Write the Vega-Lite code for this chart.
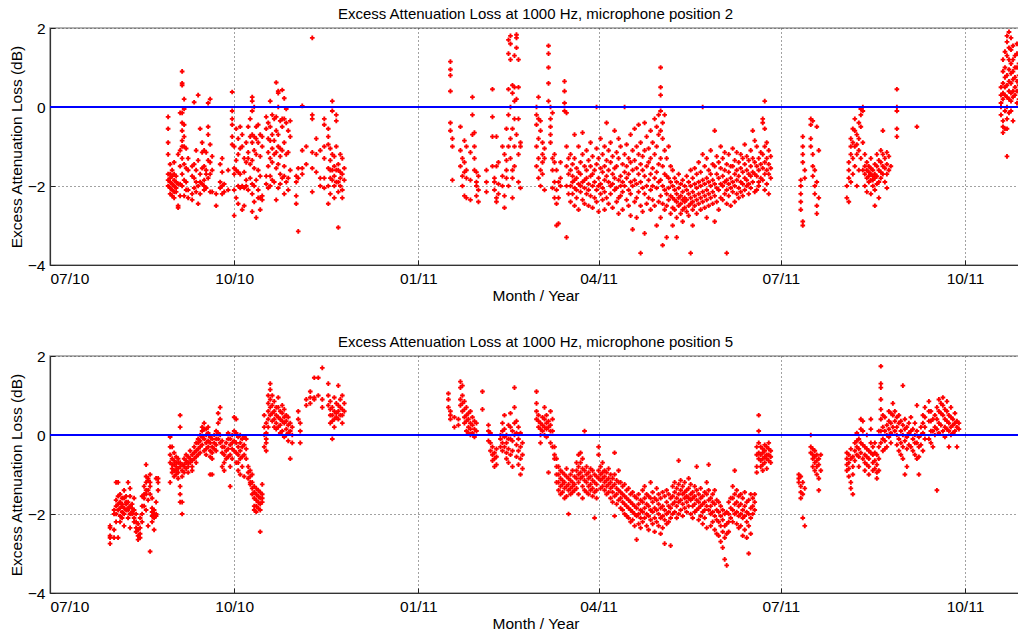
{
"$schema": "https://vega.github.io/schema/vega-lite/v6.json",
"background": "white",
"padding": {"left": 8, "top": 6, "right": 0, "bottom": 0},
"config": {
  "font": "Liberation Sans",
  "view": {"stroke": "#999999", "strokeWidth": 1.5},
  "axis": {"labelFont": "Liberation Sans", "labelFontSize": 15.5, "labelColor": "#000000", "titleFont": "Liberation Sans", "titleFontSize": 15.5, "titleFontWeight": "normal", "titleColor": "#000000", "domain": true, "domainColor": "#333333", "domainWidth": 1.2, "ticks": true, "tickSize": -5, "tickColor": "#222222", "gridDash": [1, 3], "gridColor": "#444444", "gridOpacity": 1, "labelPadding": 11},
  "axisY": {"labelPadding": 10, "titlePadding": 3},
  "axisX": {"titlePadding": 2},
  "title": {"font": "Liberation Sans", "fontSize": 15, "fontWeight": "normal", "color": "#000000", "offset": -1},
  "concat": {"spacing": 29}
},
"datasets": {
"mic2": [
{"date":"2010-08-29","loss":-0.25},{"date":"2010-08-29","loss":-0.55},{"date":"2010-08-29","loss":-0.9},{"date":"2010-08-29","loss":-1.2},{"date":"2010-08-29","loss":-1.7},{"date":"2010-08-29","loss":-1.85},{"date":"2010-08-29","loss":-2.0},
{"date":"2010-08-30","loss":-1.45},{"date":"2010-08-30","loss":-1.7},{"date":"2010-08-30","loss":-1.8},{"date":"2010-08-30","loss":-1.9},{"date":"2010-08-30","loss":-2.05},{"date":"2010-08-30","loss":-2.2},
{"date":"2010-08-31","loss":-1.75},{"date":"2010-08-31","loss":-1.95},{"date":"2010-08-31","loss":-2.1},{"date":"2010-08-31","loss":-2.25},{"date":"2010-08-31","loss":-1.6},
{"date":"2010-09-01","loss":-1.7},{"date":"2010-09-01","loss":-1.85},{"date":"2010-09-01","loss":-2.0},{"date":"2010-09-01","loss":-2.15},{"date":"2010-09-01","loss":-2.3},{"date":"2010-09-01","loss":-1.4},
{"date":"2010-09-02","loss":-1.9},{"date":"2010-09-02","loss":-2.05},{"date":"2010-09-02","loss":-2.15},{"date":"2010-09-02","loss":-1.75},
{"date":"2010-09-03","loss":-2.5},{"date":"2010-09-03","loss":-2.55},{"date":"2010-09-03","loss":-1.95},{"date":"2010-09-03","loss":-1.2},
{"date":"2010-09-04","loss":-1.1},{"date":"2010-09-04","loss":-1.5},{"date":"2010-09-04","loss":-1.95},{"date":"2010-09-04","loss":-2.25},{"date":"2010-09-04","loss":-0.15},
{"date":"2010-09-05","loss":0.9},{"date":"2010-09-05","loss":0.6},{"date":"2010-09-05","loss":0.55},{"date":"2010-09-05","loss":-0.15},{"date":"2010-09-05","loss":-0.4},{"date":"2010-09-05","loss":-0.6},{"date":"2010-09-05","loss":-0.85},{"date":"2010-09-05","loss":-1.0},{"date":"2010-09-05","loss":-1.3},{"date":"2010-09-05","loss":-1.7},{"date":"2010-09-05","loss":-2.0},
{"date":"2010-09-06","loss":0.2},{"date":"2010-09-06","loss":-0.05},{"date":"2010-09-06","loss":-0.45},{"date":"2010-09-06","loss":-0.75},{"date":"2010-09-06","loss":-1.0},{"date":"2010-09-06","loss":-1.45},{"date":"2010-09-06","loss":-1.85},{"date":"2010-09-06","loss":-2.25},
{"date":"2010-09-07","loss":-1.05},{"date":"2010-09-07","loss":-1.55},{"date":"2010-09-07","loss":-1.9},{"date":"2010-09-07","loss":-2.1},
{"date":"2010-09-08","loss":-1.3},{"date":"2010-09-08","loss":-1.6},{"date":"2010-09-08","loss":-2.1},{"date":"2010-09-08","loss":-2.3},
{"date":"2010-09-10","loss":-1.5},{"date":"2010-09-10","loss":-1.75},{"date":"2010-09-10","loss":-2.2},{"date":"2010-09-10","loss":-2.35},
{"date":"2010-09-11","loss":0.12},{"date":"2010-09-11","loss":-1.45},{"date":"2010-09-11","loss":-1.8},{"date":"2010-09-11","loss":-2.05},
{"date":"2010-09-12","loss":-1.1},{"date":"2010-09-12","loss":-1.6},{"date":"2010-09-12","loss":-1.9},{"date":"2010-09-12","loss":-2.15},
{"date":"2010-09-13","loss":0.3},{"date":"2010-09-13","loss":-1.35},{"date":"2010-09-13","loss":-2.0},{"date":"2010-09-13","loss":-2.45},
{"date":"2010-09-14","loss":-0.55},{"date":"2010-09-14","loss":-1.7},{"date":"2010-09-14","loss":-1.9},{"date":"2010-09-14","loss":-2.2},
{"date":"2010-09-15","loss":-0.9},{"date":"2010-09-15","loss":-1.15},{"date":"2010-09-15","loss":-1.55},{"date":"2010-09-15","loss":-1.95},
{"date":"2010-09-16","loss":-1.1},{"date":"2010-09-16","loss":-1.5},{"date":"2010-09-16","loss":-1.85},{"date":"2010-09-16","loss":-2.0},{"date":"2010-09-16","loss":-2.1},
{"date":"2010-09-17","loss":-1.15},{"date":"2010-09-17","loss":-1.6},{"date":"2010-09-17","loss":-1.7},{"date":"2010-09-17","loss":-2.05},
{"date":"2010-09-18","loss":0.1},{"date":"2010-09-18","loss":-0.5},{"date":"2010-09-18","loss":-0.7},{"date":"2010-09-18","loss":-1.35},{"date":"2010-09-18","loss":-1.8},
{"date":"2010-09-19","loss":0.2},{"date":"2010-09-19","loss":-0.95},{"date":"2010-09-19","loss":-1.4},{"date":"2010-09-19","loss":-1.7},{"date":"2010-09-19","loss":-2.15},
{"date":"2010-09-20","loss":-1.25},{"date":"2010-09-20","loss":-1.6},{"date":"2010-09-20","loss":-2.15},
{"date":"2010-09-22","loss":-2.2},{"date":"2010-09-22","loss":-2.5},
{"date":"2010-09-24","loss":-1.45},{"date":"2010-09-24","loss":-1.9},{"date":"2010-09-24","loss":-2.05},
{"date":"2010-09-25","loss":-1.3},{"date":"2010-09-25","loss":-1.65},{"date":"2010-09-25","loss":-2.0},{"date":"2010-09-25","loss":-2.2},
{"date":"2010-09-26","loss":-1.95},{"date":"2010-09-26","loss":-2.15},
{"date":"2010-09-28","loss":-1.6},{"date":"2010-09-28","loss":-2.1},
{"date":"2010-09-30","loss":0.38},{"date":"2010-09-30","loss":-0.1},{"date":"2010-09-30","loss":-0.3},{"date":"2010-09-30","loss":-0.45},{"date":"2010-09-30","loss":-0.75},{"date":"2010-09-30","loss":-0.95},
{"date":"2010-10-01","loss":-1.0},{"date":"2010-10-01","loss":-1.55},{"date":"2010-10-01","loss":-1.7},{"date":"2010-10-01","loss":-2.1},{"date":"2010-10-01","loss":-2.75},
{"date":"2010-10-02","loss":-0.55},{"date":"2010-10-02","loss":-1.35},{"date":"2010-10-02","loss":-1.6},{"date":"2010-10-02","loss":-2.3},
{"date":"2010-10-03","loss":-0.8},{"date":"2010-10-03","loss":-1.2},{"date":"2010-10-03","loss":-1.65},{"date":"2010-10-03","loss":-2.0},{"date":"2010-10-03","loss":-2.45},
{"date":"2010-10-04","loss":-0.5},{"date":"2010-10-04","loss":-1.05},{"date":"2010-10-04","loss":-1.7},{"date":"2010-10-04","loss":-2.05},
{"date":"2010-10-05","loss":-0.7},{"date":"2010-10-05","loss":-1.0},{"date":"2010-10-05","loss":-2.0},{"date":"2010-10-05","loss":-2.6},
{"date":"2010-10-06","loss":-1.3},{"date":"2010-10-06","loss":-2.05},{"date":"2010-10-06","loss":-2.5},{"date":"2010-10-06","loss":-1.65},
{"date":"2010-10-07","loss":-0.9},{"date":"2010-10-07","loss":-1.4},{"date":"2010-10-07","loss":-1.85},{"date":"2010-10-07","loss":-2.0},
{"date":"2010-10-08","loss":-0.5},{"date":"2010-10-08","loss":-1.15},{"date":"2010-10-08","loss":-1.3},{"date":"2010-10-08","loss":-2.1},
{"date":"2010-10-09","loss":-0.3},{"date":"2010-10-09","loss":-0.75},{"date":"2010-10-09","loss":-1.45},{"date":"2010-10-09","loss":-1.8},
{"date":"2010-10-10","loss":0.25},{"date":"2010-10-10","loss":0.15},{"date":"2010-10-10","loss":-0.1},{"date":"2010-10-10","loss":-0.7},{"date":"2010-10-10","loss":-0.9},{"date":"2010-10-10","loss":-1.35},{"date":"2010-10-10","loss":-1.95},{"date":"2010-10-10","loss":-2.2},{"date":"2010-10-10","loss":-2.65},
{"date":"2010-10-11","loss":0.0},{"date":"2010-10-11","loss":-0.75},{"date":"2010-10-11","loss":-1.1},{"date":"2010-10-11","loss":-1.55},{"date":"2010-10-11","loss":-2.0},{"date":"2010-10-11","loss":-2.4},
{"date":"2010-10-12","loss":-0.5},{"date":"2010-10-12","loss":-0.8},{"date":"2010-10-12","loss":-1.2},{"date":"2010-10-12","loss":-1.85},{"date":"2010-10-12","loss":-2.8},
{"date":"2010-10-13","loss":-0.45},{"date":"2010-10-13","loss":-0.9},{"date":"2010-10-13","loss":-1.6},{"date":"2010-10-13","loss":-2.1},{"date":"2010-10-13","loss":-2.3},
{"date":"2010-10-14","loss":-0.7},{"date":"2010-10-14","loss":-1.25},{"date":"2010-10-14","loss":-1.75},{"date":"2010-10-14","loss":-2.3},{"date":"2010-10-14","loss":-2.6},
{"date":"2010-10-15","loss":-0.75},{"date":"2010-10-15","loss":-1.0},{"date":"2010-10-15","loss":-2.25},{"date":"2010-10-15","loss":-2.35},
{"date":"2010-10-17","loss":-0.25},{"date":"2010-10-17","loss":-0.55},{"date":"2010-10-17","loss":-1.75},{"date":"2010-10-17","loss":-1.95},
{"date":"2010-10-18","loss":-0.4},{"date":"2010-10-18","loss":-0.8},{"date":"2010-10-18","loss":-1.15},{"date":"2010-10-18","loss":-1.5},{"date":"2010-10-18","loss":-2.05},
{"date":"2010-10-19","loss":0.15},{"date":"2010-10-19","loss":-0.5},{"date":"2010-10-19","loss":-0.85},{"date":"2010-10-19","loss":-1.3},{"date":"2010-10-19","loss":-1.75},{"date":"2010-10-19","loss":-2.0},
{"date":"2010-10-20","loss":-0.2},{"date":"2010-10-20","loss":-0.7},{"date":"2010-10-20","loss":-1.05},{"date":"2010-10-20","loss":-1.4},{"date":"2010-10-20","loss":-1.85},
{"date":"2010-10-21","loss":-0.3},{"date":"2010-10-21","loss":-0.85},{"date":"2010-10-21","loss":-1.2},{"date":"2010-10-21","loss":-1.9},
{"date":"2010-10-22","loss":0.62},{"date":"2010-10-22","loss":-0.25},{"date":"2010-10-22","loss":-0.6},{"date":"2010-10-22","loss":-1.15},{"date":"2010-10-22","loss":-1.55},{"date":"2010-10-22","loss":-2.35},
{"date":"2010-10-23","loss":0.4},{"date":"2010-10-23","loss":0.35},{"date":"2010-10-23","loss":0.0},{"date":"2010-10-23","loss":-0.7},{"date":"2010-10-23","loss":-1.0},{"date":"2010-10-23","loss":-1.45},{"date":"2010-10-23","loss":-2.05},
{"date":"2010-10-24","loss":-0.35},{"date":"2010-10-24","loss":-1.05},{"date":"2010-10-24","loss":-1.25},{"date":"2010-10-24","loss":-1.7},{"date":"2010-10-24","loss":-1.95},
{"date":"2010-10-25","loss":0.43},{"date":"2010-10-25","loss":-0.3},{"date":"2010-10-25","loss":-0.5},{"date":"2010-10-25","loss":-1.1},{"date":"2010-10-25","loss":-1.8},
{"date":"2010-10-26","loss":0.22},{"date":"2010-10-26","loss":-0.3},{"date":"2010-10-26","loss":-0.9},{"date":"2010-10-26","loss":-1.5},{"date":"2010-10-26","loss":-1.75},{"date":"2010-10-26","loss":-2.2},
{"date":"2010-10-27","loss":-0.05},{"date":"2010-10-27","loss":-0.4},{"date":"2010-10-27","loss":-1.2},{"date":"2010-10-27","loss":-1.9},
{"date":"2010-10-28","loss":-0.6},{"date":"2010-10-28","loss":-1.15},{"date":"2010-10-28","loss":-1.8},{"date":"2010-10-28","loss":-2.1},
{"date":"2010-10-29","loss":-0.35},{"date":"2010-10-29","loss":-0.75},{"date":"2010-10-29","loss":-1.6},
{"date":"2010-11-01","loss":-2.25},{"date":"2010-11-01","loss":-2.45},{"date":"2010-11-01","loss":-1.9},{"date":"2010-11-01","loss":-1.75},
{"date":"2010-11-02","loss":-3.15},{"date":"2010-11-02","loss":-1.55},{"date":"2010-11-02","loss":-1.8},
{"date":"2010-11-04","loss":0.03},{"date":"2010-11-04","loss":-1.1},{"date":"2010-11-04","loss":-1.55},{"date":"2010-11-04","loss":-1.7},
{"date":"2010-11-06","loss":-1.0},{"date":"2010-11-06","loss":-1.45},
{"date":"2010-11-09","loss":1.75},{"date":"2010-11-09","loss":-0.2},{"date":"2010-11-09","loss":-0.3},{"date":"2010-11-09","loss":-1.15},{"date":"2010-11-09","loss":-1.55},{"date":"2010-11-09","loss":-2.15},
{"date":"2010-11-11","loss":-0.8},{"date":"2010-11-11","loss":-1.2},{"date":"2010-11-11","loss":-1.65},
{"date":"2010-11-13","loss":-1.1},{"date":"2010-11-13","loss":-1.8},{"date":"2010-11-13","loss":-2.0},
{"date":"2010-11-15","loss":-0.3},{"date":"2010-11-15","loss":-0.45},{"date":"2010-11-15","loss":-1.0},{"date":"2010-11-15","loss":-1.3},{"date":"2010-11-15","loss":-1.8},{"date":"2010-11-15","loss":-2.05},
{"date":"2010-11-17","loss":-0.55},{"date":"2010-11-17","loss":-0.75},{"date":"2010-11-17","loss":-0.95},{"date":"2010-11-17","loss":-1.55},{"date":"2010-11-17","loss":-2.0},{"date":"2010-11-17","loss":-2.45},
{"date":"2010-11-18","loss":-1.05},{"date":"2010-11-18","loss":-1.35},{"date":"2010-11-18","loss":-1.6},{"date":"2010-11-18","loss":-1.8},{"date":"2010-11-18","loss":-2.2},
{"date":"2010-11-19","loss":0.15},{"date":"2010-11-19","loss":-0.1},{"date":"2010-11-19","loss":-1.2},{"date":"2010-11-19","loss":-1.6},{"date":"2010-11-19","loss":-1.85},
{"date":"2010-11-20","loss":-1.25},{"date":"2010-11-20","loss":-1.5},{"date":"2010-11-20","loss":-1.75},{"date":"2010-11-20","loss":-2.0},{"date":"2010-11-20","loss":-2.3},
{"date":"2010-11-21","loss":-0.2},{"date":"2010-11-21","loss":-0.35},{"date":"2010-11-21","loss":-1.0},{"date":"2010-11-21","loss":-1.6},{"date":"2010-11-21","loss":-1.9},
{"date":"2010-11-22","loss":-3.05},{"date":"2010-11-22","loss":-1.45},{"date":"2010-11-22","loss":-1.6},{"date":"2010-11-22","loss":-1.9},{"date":"2010-11-22","loss":-2.15},
{"date":"2010-11-23","loss":-1.2},{"date":"2010-11-23","loss":-1.65},{"date":"2010-11-23","loss":-1.8},{"date":"2010-11-23","loss":-2.0},
{"date":"2010-11-24","loss":-1.3},{"date":"2010-11-24","loss":-1.7},{"date":"2010-11-24","loss":-2.1},{"date":"2010-11-24","loss":-2.3},
{"date":"2010-11-25","loss":-1.55},{"date":"2010-11-25","loss":-1.85},
{"date":"2011-01-17","loss":1.15},{"date":"2011-01-17","loss":0.95},{"date":"2011-01-17","loss":0.8},{"date":"2011-01-17","loss":0.4},{"date":"2011-01-17","loss":-0.4},{"date":"2011-01-17","loss":-0.6},
{"date":"2011-01-18","loss":-0.8},{"date":"2011-01-18","loss":-1.0},{"date":"2011-01-18","loss":-1.85},
{"date":"2011-01-22","loss":-0.5},{"date":"2011-01-22","loss":-1.1},{"date":"2011-01-22","loss":-1.5},
{"date":"2011-01-23","loss":-1.3},{"date":"2011-01-23","loss":-1.75},{"date":"2011-01-23","loss":-2.0},
{"date":"2011-01-24","loss":-0.85},{"date":"2011-01-24","loss":-1.4},{"date":"2011-01-24","loss":-1.65},{"date":"2011-01-24","loss":-2.25},
{"date":"2011-01-25","loss":-1.0},{"date":"2011-01-25","loss":-1.6},{"date":"2011-01-25","loss":-1.8},{"date":"2011-01-25","loss":-2.3},
{"date":"2011-01-27","loss":-1.15},{"date":"2011-01-27","loss":-1.85},{"date":"2011-01-27","loss":-2.35},
{"date":"2011-01-28","loss":0.25},{"date":"2011-01-28","loss":-0.2},{"date":"2011-01-28","loss":-0.7},
{"date":"2011-01-29","loss":-0.65},{"date":"2011-01-29","loss":-1.0},{"date":"2011-01-29","loss":-1.3},{"date":"2011-01-29","loss":-1.6},
{"date":"2011-01-30","loss":-1.65},{"date":"2011-01-30","loss":-1.9},{"date":"2011-01-30","loss":-2.0},{"date":"2011-01-30","loss":-2.25},
{"date":"2011-01-31","loss":-1.75},{"date":"2011-01-31","loss":-2.1},{"date":"2011-01-31","loss":-2.4},
{"date":"2011-02-04","loss":-1.6},{"date":"2011-02-04","loss":-1.9},{"date":"2011-02-04","loss":-2.15},
{"date":"2011-02-07","loss":0.45},{"date":"2011-02-07","loss":-0.25},{"date":"2011-02-07","loss":-0.75},{"date":"2011-02-07","loss":-1.5},
{"date":"2011-02-08","loss":-1.8},{"date":"2011-02-08","loss":-1.9},{"date":"2011-02-08","loss":-2.1},
{"date":"2011-02-09","loss":-0.75},{"date":"2011-02-09","loss":-1.5},{"date":"2011-02-09","loss":-2.3},{"date":"2011-02-09","loss":-2.4},
{"date":"2011-02-10","loss":-1.4},{"date":"2011-02-10","loss":-1.95},{"date":"2011-02-10","loss":-2.2},
{"date":"2011-02-12","loss":-1.0},{"date":"2011-02-12","loss":-1.75},{"date":"2011-02-12","loss":-2.0},
{"date":"2011-02-13","loss":-1.2},{"date":"2011-02-13","loss":-2.25},{"date":"2011-02-13","loss":-2.55},
{"date":"2011-02-14","loss":-0.55},{"date":"2011-02-14","loss":-1.35},{"date":"2011-02-14","loss":-1.6},{"date":"2011-02-14","loss":-1.8},
{"date":"2011-02-15","loss":1.7},{"date":"2011-02-15","loss":1.35},{"date":"2011-02-15","loss":0.45},{"date":"2011-02-15","loss":-0.2},{"date":"2011-02-15","loss":-1.0},{"date":"2011-02-15","loss":-2.0},
{"date":"2011-02-16","loss":1.8},{"date":"2011-02-16","loss":1.6},{"date":"2011-02-16","loss":1.2},{"date":"2011-02-16","loss":0.0},{"date":"2011-02-16","loss":-0.8},{"date":"2011-02-16","loss":-1.3},
{"date":"2011-02-17","loss":0.55},{"date":"2011-02-17","loss":0.35},{"date":"2011-02-17","loss":-0.55},{"date":"2011-02-17","loss":-1.6},{"date":"2011-02-17","loss":-1.8},{"date":"2011-02-17","loss":-2.3},
{"date":"2011-02-18","loss":1.3},{"date":"2011-02-18","loss":0.5},{"date":"2011-02-18","loss":0.15},{"date":"2011-02-18","loss":-0.3},{"date":"2011-02-18","loss":-1.0},{"date":"2011-02-18","loss":-1.5},
{"date":"2011-02-19","loss":1.83},{"date":"2011-02-19","loss":1.75},{"date":"2011-02-19","loss":1.5},{"date":"2011-02-19","loss":0.2},{"date":"2011-02-19","loss":-0.7},
{"date":"2011-02-20","loss":1.2},{"date":"2011-02-20","loss":0.5},{"date":"2011-02-20","loss":-0.3},{"date":"2011-02-20","loss":-1.2},{"date":"2011-02-20","loss":-1.9},
{"date":"2011-02-21","loss":-1.0},{"date":"2011-02-21","loss":-2.05},{"date":"2011-02-21","loss":-0.9},
{"date":"2011-03-01","loss":0.0},{"date":"2011-03-01","loss":-0.2},{"date":"2011-03-01","loss":-0.45},{"date":"2011-03-01","loss":-1.0},{"date":"2011-03-01","loss":-1.5},
{"date":"2011-03-02","loss":0.25},{"date":"2011-03-02","loss":-0.3},{"date":"2011-03-02","loss":-0.8},{"date":"2011-03-02","loss":-1.3},{"date":"2011-03-02","loss":-1.8},
{"date":"2011-03-03","loss":-0.35},{"date":"2011-03-03","loss":-0.6},{"date":"2011-03-03","loss":-1.6},{"date":"2011-03-03","loss":-2.0},
{"date":"2011-03-04","loss":-0.9},{"date":"2011-03-04","loss":-1.2},{"date":"2011-03-04","loss":-1.4},{"date":"2011-03-04","loss":-1.7},
{"date":"2011-03-05","loss":-1.05},{"date":"2011-03-05","loss":-1.3},{"date":"2011-03-05","loss":-2.1},
{"date":"2011-03-07","loss":1.55},{"date":"2011-03-07","loss":1.35},{"date":"2011-03-07","loss":1.0},{"date":"2011-03-07","loss":0.6},{"date":"2011-03-07","loss":0.15},
{"date":"2011-03-08","loss":0.0},{"date":"2011-03-08","loss":-0.3},{"date":"2011-03-08","loss":-0.5},{"date":"2011-03-08","loss":-0.7},{"date":"2011-03-08","loss":-0.9},
{"date":"2011-03-09","loss":-1.3},{"date":"2011-03-09","loss":-1.6},{"date":"2011-03-09","loss":-2.05},{"date":"2011-03-09","loss":-0.15},
{"date":"2011-03-10","loss":-1.2},{"date":"2011-03-10","loss":-1.4},{"date":"2011-03-10","loss":-1.9},{"date":"2011-03-10","loss":-2.3},
{"date":"2011-03-11","loss":-1.6},{"date":"2011-03-11","loss":-2.1},{"date":"2011-03-11","loss":-2.45},{"date":"2011-03-11","loss":-3.0},
{"date":"2011-03-12","loss":-1.9},{"date":"2011-03-12","loss":-2.3},{"date":"2011-03-12","loss":-2.95},
{"date":"2011-03-13","loss":-1.4},{"date":"2011-03-13","loss":-1.8},{"date":"2011-03-13","loss":-2.0},
{"date":"2011-03-15","loss":0.65},{"date":"2011-03-15","loss":0.4},{"date":"2011-03-15","loss":0.1},{"date":"2011-03-15","loss":-0.1},
{"date":"2011-03-16","loss":-0.15},{"date":"2011-03-16","loss":-1.0},{"date":"2011-03-16","loss":-1.5},{"date":"2011-03-16","loss":-2.0},{"date":"2011-03-16","loss":-3.3},
{"date":"2011-03-17","loss":-1.3},{"date":"2011-03-17","loss":-1.7},{"date":"2011-03-17","loss":-2.2},
{"date":"2011-03-18","loss":-1.2},{"date":"2011-03-18","loss":-1.6},{"date":"2011-03-18","loss":-2.0},{"date":"2011-03-18","loss":-2.4},
{"date":"2011-03-19","loss":-1.45},{"date":"2011-03-19","loss":-1.75},{"date":"2011-03-19","loss":-1.9},{"date":"2011-03-19","loss":-2.2},
{"date":"2011-03-20","loss":-0.7},{"date":"2011-03-20","loss":-1.3},{"date":"2011-03-20","loss":-1.85},{"date":"2011-03-20","loss":-2.05},{"date":"2011-03-20","loss":-2.5},
{"date":"2011-03-21","loss":-1.55},{"date":"2011-03-21","loss":-1.8},{"date":"2011-03-21","loss":-2.1},{"date":"2011-03-21","loss":-2.3},
{"date":"2011-03-22","loss":-1.0},{"date":"2011-03-22","loss":-1.65},{"date":"2011-03-22","loss":-1.95},{"date":"2011-03-22","loss":-2.6},
{"date":"2011-03-23","loss":-1.4},{"date":"2011-03-23","loss":-1.7},{"date":"2011-03-23","loss":-2.0},{"date":"2011-03-23","loss":-2.15},
{"date":"2011-03-24","loss":-0.65},{"date":"2011-03-24","loss":-1.2},{"date":"2011-03-24","loss":-1.9},{"date":"2011-03-24","loss":-2.35},
{"date":"2011-03-25","loss":-1.5},{"date":"2011-03-25","loss":-1.85},{"date":"2011-03-25","loss":-2.05},{"date":"2011-03-25","loss":-2.45},
{"date":"2011-03-26","loss":-1.1},{"date":"2011-03-26","loss":-1.6},{"date":"2011-03-26","loss":-1.8},{"date":"2011-03-26","loss":-2.2},
{"date":"2011-03-27","loss":-1.35},{"date":"2011-03-27","loss":-1.95},{"date":"2011-03-27","loss":-2.1},{"date":"2011-03-27","loss":-2.5},
{"date":"2011-03-28","loss":-0.9},{"date":"2011-03-28","loss":-1.5},{"date":"2011-03-28","loss":-1.75},{"date":"2011-03-28","loss":-2.25},
{"date":"2011-03-29","loss":-1.25},{"date":"2011-03-29","loss":-1.7},{"date":"2011-03-29","loss":-2.0},{"date":"2011-03-29","loss":-2.55},
{"date":"2011-03-30","loss":-1.6},{"date":"2011-03-30","loss":-1.9},{"date":"2011-03-30","loss":-2.3},
{"date":"2011-03-31","loss":0.0},{"date":"2011-03-31","loss":-1.05},{"date":"2011-03-31","loss":-1.45},{"date":"2011-03-31","loss":-2.1},{"date":"2011-03-31","loss":-2.4},
{"date":"2011-04-01","loss":-1.3},{"date":"2011-04-01","loss":-1.8},{"date":"2011-04-01","loss":-2.0},{"date":"2011-04-01","loss":-2.65},
{"date":"2011-04-02","loss":-0.8},{"date":"2011-04-02","loss":-1.55},{"date":"2011-04-02","loss":-1.95},{"date":"2011-04-02","loss":-2.2},
{"date":"2011-04-03","loss":-1.2},{"date":"2011-04-03","loss":-1.65},{"date":"2011-04-03","loss":-2.05},{"date":"2011-04-03","loss":-2.35},
{"date":"2011-04-04","loss":-1.0},{"date":"2011-04-04","loss":-1.5},{"date":"2011-04-04","loss":-1.85},{"date":"2011-04-04","loss":-2.15},{"date":"2011-04-04","loss":-2.6},
{"date":"2011-04-05","loss":-0.4},{"date":"2011-04-05","loss":-1.35},{"date":"2011-04-05","loss":-1.75},{"date":"2011-04-05","loss":-2.3},
{"date":"2011-04-06","loss":-1.1},{"date":"2011-04-06","loss":-1.6},{"date":"2011-04-06","loss":-1.9},{"date":"2011-04-06","loss":-2.45},
{"date":"2011-04-07","loss":-0.9},{"date":"2011-04-07","loss":-1.4},{"date":"2011-04-07","loss":-2.0},{"date":"2011-04-07","loss":-2.2},
{"date":"2011-04-08","loss":-1.25},{"date":"2011-04-08","loss":-1.7},{"date":"2011-04-08","loss":-1.95},{"date":"2011-04-08","loss":-2.55},
{"date":"2011-04-09","loss":-0.6},{"date":"2011-04-09","loss":-1.55},{"date":"2011-04-09","loss":-1.8},{"date":"2011-04-09","loss":-2.1},
{"date":"2011-04-10","loss":-1.15},{"date":"2011-04-10","loss":-1.5},{"date":"2011-04-10","loss":-2.05},{"date":"2011-04-10","loss":-2.4},
{"date":"2011-04-11","loss":-0.8},{"date":"2011-04-11","loss":-1.3},{"date":"2011-04-11","loss":-1.85},{"date":"2011-04-11","loss":-2.3},{"date":"2011-04-11","loss":-2.7},
{"date":"2011-04-12","loss":-1.0},{"date":"2011-04-12","loss":-1.75},{"date":"2011-04-12","loss":-2.0},{"date":"2011-04-12","loss":-2.25},
{"date":"2011-04-13","loss":-1.45},{"date":"2011-04-13","loss":-1.9},{"date":"2011-04-13","loss":-2.15},{"date":"2011-04-13","loss":-2.6},
{"date":"2011-04-14","loss":0.0},{"date":"2011-04-14","loss":-1.2},{"date":"2011-04-14","loss":-1.65},{"date":"2011-04-14","loss":-2.0},
{"date":"2011-04-15","loss":-0.95},{"date":"2011-04-15","loss":-1.5},{"date":"2011-04-15","loss":-1.8},{"date":"2011-04-15","loss":-2.35},
{"date":"2011-04-16","loss":-1.3},{"date":"2011-04-16","loss":-1.7},{"date":"2011-04-16","loss":-2.1},{"date":"2011-04-16","loss":-2.5},
{"date":"2011-04-17","loss":-0.7},{"date":"2011-04-17","loss":-1.4},{"date":"2011-04-17","loss":-1.9},{"date":"2011-04-17","loss":-2.2},{"date":"2011-04-17","loss":-2.75},
{"date":"2011-04-18","loss":-1.1},{"date":"2011-04-18","loss":-1.6},{"date":"2011-04-18","loss":-2.0},{"date":"2011-04-18","loss":-3.1},
{"date":"2011-04-19","loss":-0.55},{"date":"2011-04-19","loss":-1.35},{"date":"2011-04-19","loss":-1.85},{"date":"2011-04-19","loss":-2.4},
{"date":"2011-04-20","loss":-1.0},{"date":"2011-04-20","loss":-1.55},{"date":"2011-04-20","loss":-1.95},{"date":"2011-04-20","loss":-2.3},{"date":"2011-04-20","loss":-2.8},
{"date":"2011-04-21","loss":-0.45},{"date":"2011-04-21","loss":-1.2},{"date":"2011-04-21","loss":-1.7},{"date":"2011-04-21","loss":-2.15},
{"date":"2011-04-22","loss":-0.9},{"date":"2011-04-22","loss":-1.45},{"date":"2011-04-22","loss":-1.9},{"date":"2011-04-22","loss":-2.5},{"date":"2011-04-22","loss":-3.7},
{"date":"2011-04-23","loss":-1.25},{"date":"2011-04-23","loss":-1.6},{"date":"2011-04-23","loss":-2.05},{"date":"2011-04-23","loss":-2.65},
{"date":"2011-04-24","loss":-0.4},{"date":"2011-04-24","loss":-1.1},{"date":"2011-04-24","loss":-1.75},{"date":"2011-04-24","loss":-2.2},{"date":"2011-04-24","loss":-3.2},
{"date":"2011-04-25","loss":-0.75},{"date":"2011-04-25","loss":-1.5},{"date":"2011-04-25","loss":-2.0},{"date":"2011-04-25","loss":-2.45},
{"date":"2011-04-26","loss":-1.05},{"date":"2011-04-26","loss":-1.4},{"date":"2011-04-26","loss":-1.85},{"date":"2011-04-26","loss":-2.3},
{"date":"2011-04-27","loss":-0.6},{"date":"2011-04-27","loss":-1.3},{"date":"2011-04-27","loss":-1.7},{"date":"2011-04-27","loss":-2.1},{"date":"2011-04-27","loss":-2.6},
{"date":"2011-04-28","loss":-0.9},{"date":"2011-04-28","loss":-1.55},{"date":"2011-04-28","loss":-2.0},{"date":"2011-04-28","loss":-2.35},
{"date":"2011-04-29","loss":-0.3},{"date":"2011-04-29","loss":-1.2},{"date":"2011-04-29","loss":-1.8},{"date":"2011-04-29","loss":-2.5},
{"date":"2011-04-30","loss":-0.5},{"date":"2011-04-30","loss":-1.0},{"date":"2011-04-30","loss":-1.65},{"date":"2011-04-30","loss":-2.05},{"date":"2011-04-30","loss":-3.0},
{"date":"2011-05-01","loss":-0.2},{"date":"2011-05-01","loss":-0.7},{"date":"2011-05-01","loss":-1.45},{"date":"2011-05-01","loss":-1.9},{"date":"2011-05-01","loss":-2.4},
{"date":"2011-05-02","loss":1.0},{"date":"2011-05-02","loss":0.5},{"date":"2011-05-02","loss":0.3},{"date":"2011-05-02","loss":-0.1},{"date":"2011-05-02","loss":-0.6},{"date":"2011-05-02","loss":-1.3},{"date":"2011-05-02","loss":-1.85},{"date":"2011-05-02","loss":-2.25},{"date":"2011-05-02","loss":-2.8},
{"date":"2011-05-03","loss":-0.4},{"date":"2011-05-03","loss":-0.8},{"date":"2011-05-03","loss":-1.5},{"date":"2011-05-03","loss":-2.0},{"date":"2011-05-03","loss":-2.45},{"date":"2011-05-03","loss":-3.5},
{"date":"2011-05-04","loss":-0.2},{"date":"2011-05-04","loss":-1.1},{"date":"2011-05-04","loss":-1.7},{"date":"2011-05-04","loss":-2.1},{"date":"2011-05-04","loss":-2.6},
{"date":"2011-05-05","loss":-1.3},{"date":"2011-05-05","loss":-1.75},{"date":"2011-05-05","loss":-2.2},{"date":"2011-05-05","loss":-2.5},{"date":"2011-05-05","loss":-3.3},
{"date":"2011-05-06","loss":-1.0},{"date":"2011-05-06","loss":-1.8},{"date":"2011-05-06","loss":-2.05},{"date":"2011-05-06","loss":-2.35},
{"date":"2011-05-07","loss":-1.5},{"date":"2011-05-07","loss":-1.9},{"date":"2011-05-07","loss":-2.25},{"date":"2011-05-07","loss":-2.7},
{"date":"2011-05-08","loss":-1.6},{"date":"2011-05-08","loss":-2.0},{"date":"2011-05-08","loss":-2.3},{"date":"2011-05-08","loss":-2.55},{"date":"2011-05-08","loss":-3.0},
{"date":"2011-05-09","loss":-1.8},{"date":"2011-05-09","loss":-2.1},{"date":"2011-05-09","loss":-2.35},{"date":"2011-05-09","loss":-2.6},
{"date":"2011-05-10","loss":-1.9},{"date":"2011-05-10","loss":-2.2},{"date":"2011-05-10","loss":-2.4},{"date":"2011-05-10","loss":-2.8},{"date":"2011-05-10","loss":-3.3},
{"date":"2011-05-11","loss":-1.7},{"date":"2011-05-11","loss":-2.05},{"date":"2011-05-11","loss":-2.3},{"date":"2011-05-11","loss":-2.5},
{"date":"2011-05-12","loss":-1.95},{"date":"2011-05-12","loss":-2.25},{"date":"2011-05-12","loss":-2.45},{"date":"2011-05-12","loss":-2.7},
{"date":"2011-05-13","loss":-1.85},{"date":"2011-05-13","loss":-2.15},{"date":"2011-05-13","loss":-2.35},{"date":"2011-05-13","loss":-2.6},{"date":"2011-05-13","loss":-2.9},
{"date":"2011-05-14","loss":-2.0},{"date":"2011-05-14","loss":-2.3},{"date":"2011-05-14","loss":-2.4},{"date":"2011-05-14","loss":-2.55},
{"date":"2011-05-15","loss":-1.75},{"date":"2011-05-15","loss":-2.1},{"date":"2011-05-15","loss":-2.35},{"date":"2011-05-15","loss":-2.65},
{"date":"2011-05-16","loss":-1.9},{"date":"2011-05-16","loss":-2.2},{"date":"2011-05-16","loss":-2.5},{"date":"2011-05-16","loss":-2.75},
{"date":"2011-05-17","loss":-1.6},{"date":"2011-05-17","loss":-2.0},{"date":"2011-05-17","loss":-2.3},{"date":"2011-05-17","loss":-2.45},{"date":"2011-05-17","loss":-3.7},
{"date":"2011-05-18","loss":-1.8},{"date":"2011-05-18","loss":-2.15},{"date":"2011-05-18","loss":-2.4},{"date":"2011-05-18","loss":-2.6},{"date":"2011-05-18","loss":-3.0},
{"date":"2011-05-19","loss":-1.55},{"date":"2011-05-19","loss":-1.95},{"date":"2011-05-19","loss":-2.25},{"date":"2011-05-19","loss":-2.5},
{"date":"2011-05-20","loss":-1.7},{"date":"2011-05-20","loss":-2.05},{"date":"2011-05-20","loss":-2.35},{"date":"2011-05-20","loss":-2.7},
{"date":"2011-05-21","loss":-1.4},{"date":"2011-05-21","loss":-1.9},{"date":"2011-05-21","loss":-2.2},{"date":"2011-05-21","loss":-2.45},
{"date":"2011-05-22","loss":-1.65},{"date":"2011-05-22","loss":-2.0},{"date":"2011-05-22","loss":-2.3},{"date":"2011-05-22","loss":-2.6},
{"date":"2011-05-23","loss":0.0},{"date":"2011-05-23","loss":-1.2},{"date":"2011-05-23","loss":-1.85},{"date":"2011-05-23","loss":-2.15},{"date":"2011-05-23","loss":-2.4},
{"date":"2011-05-24","loss":-1.5},{"date":"2011-05-24","loss":-1.95},{"date":"2011-05-24","loss":-2.25},{"date":"2011-05-24","loss":-2.55},
{"date":"2011-05-25","loss":-1.3},{"date":"2011-05-25","loss":-1.8},{"date":"2011-05-25","loss":-2.1},{"date":"2011-05-25","loss":-2.35},{"date":"2011-05-25","loss":-2.8},
{"date":"2011-05-26","loss":-1.6},{"date":"2011-05-26","loss":-1.9},{"date":"2011-05-26","loss":-2.2},{"date":"2011-05-26","loss":-2.5},
{"date":"2011-05-27","loss":-1.1},{"date":"2011-05-27","loss":-1.7},{"date":"2011-05-27","loss":-2.0},{"date":"2011-05-27","loss":-2.3},
{"date":"2011-05-28","loss":-1.45},{"date":"2011-05-28","loss":-1.85},{"date":"2011-05-28","loss":-2.15},{"date":"2011-05-28","loss":-2.45},
{"date":"2011-05-29","loss":-0.6},{"date":"2011-05-29","loss":-1.5},{"date":"2011-05-29","loss":-1.95},{"date":"2011-05-29","loss":-2.25},{"date":"2011-05-29","loss":-2.9},
{"date":"2011-05-30","loss":-1.25},{"date":"2011-05-30","loss":-1.7},{"date":"2011-05-30","loss":-2.05},{"date":"2011-05-30","loss":-2.4},
{"date":"2011-05-31","loss":-1.4},{"date":"2011-05-31","loss":-1.8},{"date":"2011-05-31","loss":-2.1},{"date":"2011-05-31","loss":-2.6},
{"date":"2011-06-01","loss":-1.0},{"date":"2011-06-01","loss":-1.55},{"date":"2011-06-01","loss":-1.95},{"date":"2011-06-01","loss":-2.3},
{"date":"2011-06-02","loss":-1.3},{"date":"2011-06-02","loss":-1.75},{"date":"2011-06-02","loss":-2.0},{"date":"2011-06-02","loss":-2.35},
{"date":"2011-06-03","loss":-1.15},{"date":"2011-06-03","loss":-1.6},{"date":"2011-06-03","loss":-1.9},{"date":"2011-06-03","loss":-2.2},
{"date":"2011-06-04","loss":-1.45},{"date":"2011-06-04","loss":-1.85},{"date":"2011-06-04","loss":-2.1},{"date":"2011-06-04","loss":-2.45},{"date":"2011-06-04","loss":-3.7},
{"date":"2011-06-05","loss":-1.2},{"date":"2011-06-05","loss":-1.65},{"date":"2011-06-05","loss":-1.95},{"date":"2011-06-05","loss":-2.25},
{"date":"2011-06-06","loss":-1.5},{"date":"2011-06-06","loss":-1.8},{"date":"2011-06-06","loss":-2.05},{"date":"2011-06-06","loss":-2.5},
{"date":"2011-06-07","loss":-1.05},{"date":"2011-06-07","loss":-1.5},{"date":"2011-06-07","loss":-1.9},{"date":"2011-06-07","loss":-2.15},
{"date":"2011-06-08","loss":-1.35},{"date":"2011-06-08","loss":-1.7},{"date":"2011-06-08","loss":-2.0},{"date":"2011-06-08","loss":-2.4},
{"date":"2011-06-09","loss":-1.15},{"date":"2011-06-09","loss":-1.6},{"date":"2011-06-09","loss":-1.85},{"date":"2011-06-09","loss":-2.2},
{"date":"2011-06-10","loss":-1.4},{"date":"2011-06-10","loss":-1.75},{"date":"2011-06-10","loss":-2.05},{"date":"2011-06-10","loss":-2.3},
{"date":"2011-06-11","loss":-1.2},{"date":"2011-06-11","loss":-1.55},{"date":"2011-06-11","loss":-1.9},{"date":"2011-06-11","loss":-2.15},
{"date":"2011-06-12","loss":-1.3},{"date":"2011-06-12","loss":-1.65},{"date":"2011-06-12","loss":-1.95},{"date":"2011-06-12","loss":-2.25},
{"date":"2011-06-13","loss":-0.95},{"date":"2011-06-13","loss":-1.45},{"date":"2011-06-13","loss":-1.8},{"date":"2011-06-13","loss":-2.1},
{"date":"2011-06-14","loss":-1.25},{"date":"2011-06-14","loss":-1.6},{"date":"2011-06-14","loss":-1.85},{"date":"2011-06-14","loss":-2.0},
{"date":"2011-06-15","loss":-1.35},{"date":"2011-06-15","loss":-1.7},{"date":"2011-06-15","loss":-1.95},{"date":"2011-06-15","loss":-2.2},
{"date":"2011-06-16","loss":-1.1},{"date":"2011-06-16","loss":-1.5},{"date":"2011-06-16","loss":-1.75},{"date":"2011-06-16","loss":-2.05},
{"date":"2011-06-17","loss":-0.6},{"date":"2011-06-17","loss":-1.3},{"date":"2011-06-17","loss":-1.65},{"date":"2011-06-17","loss":-1.9},
{"date":"2011-06-18","loss":-0.85},{"date":"2011-06-18","loss":-1.4},{"date":"2011-06-18","loss":-1.7},{"date":"2011-06-18","loss":-2.15},
{"date":"2011-06-19","loss":-1.0},{"date":"2011-06-19","loss":-1.5},{"date":"2011-06-19","loss":-1.75},{"date":"2011-06-19","loss":-2.1},
{"date":"2011-06-20","loss":-1.3},{"date":"2011-06-20","loss":-1.6},{"date":"2011-06-20","loss":-1.9},{"date":"2011-06-20","loss":-2.0},
{"date":"2011-06-21","loss":-1.15},{"date":"2011-06-21","loss":-1.45},{"date":"2011-06-21","loss":-1.8},
{"date":"2011-06-22","loss":-0.3},{"date":"2011-06-22","loss":-0.4},{"date":"2011-06-22","loss":-1.2},{"date":"2011-06-22","loss":-1.55},{"date":"2011-06-22","loss":-1.85},
{"date":"2011-06-23","loss":0.15},{"date":"2011-06-23","loss":-0.55},{"date":"2011-06-23","loss":-1.0},{"date":"2011-06-23","loss":-1.4},{"date":"2011-06-23","loss":-1.7},{"date":"2011-06-23","loss":-2.1},
{"date":"2011-06-24","loss":-0.9},{"date":"2011-06-24","loss":-1.3},{"date":"2011-06-24","loss":-1.6},{"date":"2011-06-24","loss":-1.95},
{"date":"2011-06-25","loss":-1.1},{"date":"2011-06-25","loss":-1.45},{"date":"2011-06-25","loss":-1.7},{"date":"2011-06-25","loss":-2.2},
{"date":"2011-06-26","loss":-1.25},{"date":"2011-06-26","loss":-1.55},{"date":"2011-06-26","loss":-1.8},
{"date":"2011-07-11","loss":-1.85},{"date":"2011-07-11","loss":-2.0},{"date":"2011-07-11","loss":-2.2},{"date":"2011-07-11","loss":-2.4},{"date":"2011-07-11","loss":-2.6},
{"date":"2011-07-12","loss":-2.9},{"date":"2011-07-12","loss":-3.0},{"date":"2011-07-12","loss":-0.75},{"date":"2011-07-12","loss":-1.0},{"date":"2011-07-12","loss":-1.2},{"date":"2011-07-12","loss":-1.4},
{"date":"2011-07-13","loss":-1.6},{"date":"2011-07-13","loss":-1.8},
{"date":"2011-07-16","loss":-0.3},{"date":"2011-07-16","loss":-0.45},{"date":"2011-07-16","loss":-0.8},{"date":"2011-07-16","loss":-1.0},
{"date":"2011-07-17","loss":-1.2},{"date":"2011-07-17","loss":-1.5},{"date":"2011-07-17","loss":-1.75},{"date":"2011-07-17","loss":-0.35},
{"date":"2011-07-18","loss":-2.0},{"date":"2011-07-18","loss":-2.2},{"date":"2011-07-18","loss":-1.6},
{"date":"2011-07-19","loss":-2.5},{"date":"2011-07-19","loss":-2.7},{"date":"2011-07-19","loss":-1.9},{"date":"2011-07-19","loss":-0.5},
{"date":"2011-07-20","loss":-1.1},{"date":"2011-07-20","loss":-2.3},
{"date":"2011-08-03","loss":-2.0},{"date":"2011-08-03","loss":-2.3},
{"date":"2011-08-04","loss":-1.4},{"date":"2011-08-04","loss":-1.6},{"date":"2011-08-04","loss":-1.8},{"date":"2011-08-04","loss":-2.4},
{"date":"2011-08-05","loss":-0.8},{"date":"2011-08-05","loss":-1.0},{"date":"2011-08-05","loss":-1.2},{"date":"2011-08-05","loss":-1.9},
{"date":"2011-08-06","loss":-0.55},{"date":"2011-08-06","loss":-0.9},{"date":"2011-08-06","loss":-1.3},{"date":"2011-08-06","loss":-1.7},
{"date":"2011-08-07","loss":-0.3},{"date":"2011-08-07","loss":-0.6},{"date":"2011-08-07","loss":-1.0},{"date":"2011-08-07","loss":-1.5},
{"date":"2011-08-08","loss":-0.7},{"date":"2011-08-08","loss":-0.95},{"date":"2011-08-08","loss":-1.2},{"date":"2011-08-08","loss":-2.0},
{"date":"2011-08-09","loss":-0.4},{"date":"2011-08-09","loss":-0.8},{"date":"2011-08-09","loss":-1.1},{"date":"2011-08-09","loss":-1.6},
{"date":"2011-08-10","loss":-0.05},{"date":"2011-08-10","loss":-0.2},{"date":"2011-08-10","loss":-0.5},{"date":"2011-08-10","loss":-1.3},
{"date":"2011-08-11","loss":-0.1},{"date":"2011-08-11","loss":0.0},{"date":"2011-08-11","loss":-0.9},{"date":"2011-08-11","loss":-1.6},
{"date":"2011-08-12","loss":-1.2},{"date":"2011-08-12","loss":-1.5},{"date":"2011-08-12","loss":-1.7},{"date":"2011-08-12","loss":-2.0},
{"date":"2011-08-13","loss":-1.4},{"date":"2011-08-13","loss":-1.6},{"date":"2011-08-13","loss":-1.8},{"date":"2011-08-13","loss":-2.15},
{"date":"2011-08-14","loss":-1.5},{"date":"2011-08-14","loss":-1.65},{"date":"2011-08-14","loss":-1.75},{"date":"2011-08-14","loss":-1.9},
{"date":"2011-08-15","loss":-1.3},{"date":"2011-08-15","loss":-1.55},{"date":"2011-08-15","loss":-1.7},{"date":"2011-08-15","loss":-1.85},{"date":"2011-08-15","loss":-2.2},
{"date":"2011-08-16","loss":-1.6},{"date":"2011-08-16","loss":-1.75},{"date":"2011-08-16","loss":-1.85},{"date":"2011-08-16","loss":-2.0},
{"date":"2011-08-17","loss":-1.45},{"date":"2011-08-17","loss":-1.7},{"date":"2011-08-17","loss":-1.8},{"date":"2011-08-17","loss":-2.1},{"date":"2011-08-17","loss":-2.5},
{"date":"2011-08-18","loss":-1.2},{"date":"2011-08-18","loss":-1.5},{"date":"2011-08-18","loss":-1.75},{"date":"2011-08-18","loss":-1.95},
{"date":"2011-08-19","loss":-1.35},{"date":"2011-08-19","loss":-1.6},{"date":"2011-08-19","loss":-1.9},{"date":"2011-08-19","loss":-2.3},
{"date":"2011-08-20","loss":-1.1},{"date":"2011-08-20","loss":-1.4},{"date":"2011-08-20","loss":-1.65},{"date":"2011-08-20","loss":-1.8},
{"date":"2011-08-21","loss":-0.6},{"date":"2011-08-21","loss":-1.2},{"date":"2011-08-21","loss":-1.5},{"date":"2011-08-21","loss":-1.7},
{"date":"2011-08-22","loss":-1.3},{"date":"2011-08-22","loss":-1.55},{"date":"2011-08-22","loss":-1.9},
{"date":"2011-08-23","loss":-1.15},{"date":"2011-08-23","loss":-1.45},{"date":"2011-08-23","loss":-1.7},{"date":"2011-08-23","loss":-2.05},
{"date":"2011-08-24","loss":-1.25},{"date":"2011-08-24","loss":-1.6},
{"date":"2011-08-25","loss":-1.5},
{"date":"2011-08-28","loss":0.45},{"date":"2011-08-28","loss":0.0},{"date":"2011-08-28","loss":-0.1},{"date":"2011-08-28","loss":-0.55},{"date":"2011-08-28","loss":-0.75},
{"date":"2011-09-07","loss":-0.5},
{"date":"2011-10-19","loss":0.5},{"date":"2011-10-19","loss":0.3},{"date":"2011-10-19","loss":0.1},{"date":"2011-10-19","loss":0.0},{"date":"2011-10-19","loss":-0.2},
{"date":"2011-10-20","loss":1.2},{"date":"2011-10-20","loss":0.9},{"date":"2011-10-20","loss":0.6},{"date":"2011-10-20","loss":0.35},{"date":"2011-10-20","loss":0.2},{"date":"2011-10-20","loss":-0.35},{"date":"2011-10-20","loss":-0.5},{"date":"2011-10-20","loss":-0.65},
{"date":"2011-10-21","loss":1.4},{"date":"2011-10-21","loss":1.0},{"date":"2011-10-21","loss":0.75},{"date":"2011-10-21","loss":0.5},{"date":"2011-10-21","loss":0.3},{"date":"2011-10-21","loss":-0.1},{"date":"2011-10-21","loss":-0.55},
{"date":"2011-10-22","loss":1.8},{"date":"2011-10-22","loss":1.65},{"date":"2011-10-22","loss":1.3},{"date":"2011-10-22","loss":0.8},{"date":"2011-10-22","loss":0.55},{"date":"2011-10-22","loss":0.25},{"date":"2011-10-22","loss":0.0},{"date":"2011-10-22","loss":-0.3},{"date":"2011-10-22","loss":-0.55},{"date":"2011-10-22","loss":-1.25},
{"date":"2011-10-23","loss":1.9},{"date":"2011-10-23","loss":1.5},{"date":"2011-10-23","loss":1.2},{"date":"2011-10-23","loss":0.95},{"date":"2011-10-23","loss":0.65},{"date":"2011-10-23","loss":0.4},{"date":"2011-10-23","loss":0.2},{"date":"2011-10-23","loss":-0.15},
{"date":"2011-10-24","loss":1.75},{"date":"2011-10-24","loss":1.45},{"date":"2011-10-24","loss":1.1},{"date":"2011-10-24","loss":0.85},{"date":"2011-10-24","loss":0.6},{"date":"2011-10-24","loss":0.35},{"date":"2011-10-24","loss":0.15},{"date":"2011-10-24","loss":-0.1},
{"date":"2011-10-25","loss":1.55},{"date":"2011-10-25","loss":1.2},{"date":"2011-10-25","loss":0.9},{"date":"2011-10-25","loss":0.7},{"date":"2011-10-25","loss":0.4},{"date":"2011-10-25","loss":0.25},{"date":"2011-10-25","loss":-0.35},
{"date":"2011-10-26","loss":1.3},{"date":"2011-10-26","loss":1.0},{"date":"2011-10-26","loss":0.75},{"date":"2011-10-26","loss":0.5},{"date":"2011-10-26","loss":0.3},
{"date":"2011-10-27","loss":1.6},{"date":"2011-10-27","loss":1.35},{"date":"2011-10-27","loss":1.0},{"date":"2011-10-27","loss":0.65},{"date":"2011-10-27","loss":0.4},{"date":"2011-10-27","loss":0.1},
{"date":"2011-10-28","loss":1.1},{"date":"2011-10-28","loss":0.8},{"date":"2011-10-28","loss":0.55},{"date":"2011-10-28","loss":0.2}
],
"mic5": [
{"date":"2010-07-31","loss":-2.75},{"date":"2010-07-31","loss":-2.6},{"date":"2010-07-31","loss":-2.55},{"date":"2010-07-31","loss":-2.35},{"date":"2010-07-31","loss":-2.3},
{"date":"2010-08-02","loss":-2.0},{"date":"2010-08-02","loss":-2.4},{"date":"2010-08-02","loss":-2.6},{"date":"2010-08-02","loss":-1.9},
{"date":"2010-08-03","loss":-1.2},{"date":"2010-08-03","loss":-1.65},{"date":"2010-08-03","loss":-1.8},{"date":"2010-08-03","loss":-2.0},{"date":"2010-08-03","loss":-2.2},
{"date":"2010-08-04","loss":-1.2},{"date":"2010-08-04","loss":-1.55},{"date":"2010-08-04","loss":-1.75},{"date":"2010-08-04","loss":-1.9},{"date":"2010-08-04","loss":-2.6},
{"date":"2010-08-05","loss":-1.5},{"date":"2010-08-05","loss":-1.7},{"date":"2010-08-05","loss":-1.85},{"date":"2010-08-05","loss":-2.05},{"date":"2010-08-05","loss":-2.2},
{"date":"2010-08-06","loss":-1.6},{"date":"2010-08-06","loss":-1.75},{"date":"2010-08-06","loss":-1.8},{"date":"2010-08-06","loss":-1.95},{"date":"2010-08-06","loss":-2.1},
{"date":"2010-08-07","loss":-1.4},{"date":"2010-08-07","loss":-1.6},{"date":"2010-08-07","loss":-1.85},{"date":"2010-08-07","loss":-2.0},{"date":"2010-08-07","loss":-2.3},
{"date":"2010-08-08","loss":-1.55},{"date":"2010-08-08","loss":-1.7},{"date":"2010-08-08","loss":-1.75},{"date":"2010-08-08","loss":-1.9},
{"date":"2010-08-09","loss":-1.7},{"date":"2010-08-09","loss":-1.85},{"date":"2010-08-09","loss":-1.9},{"date":"2010-08-09","loss":-2.1},{"date":"2010-08-09","loss":-1.2},
{"date":"2010-08-10","loss":-1.35},{"date":"2010-08-10","loss":-1.55},{"date":"2010-08-10","loss":-1.8},{"date":"2010-08-10","loss":-2.0},{"date":"2010-08-10","loss":-2.35},
{"date":"2010-08-11","loss":-1.75},{"date":"2010-08-11","loss":-1.85},{"date":"2010-08-11","loss":-1.95},{"date":"2010-08-11","loss":-2.0},
{"date":"2010-08-12","loss":-1.6},{"date":"2010-08-12","loss":-1.9},{"date":"2010-08-12","loss":-2.1},{"date":"2010-08-12","loss":-2.2},
{"date":"2010-08-13","loss":-2.0},{"date":"2010-08-13","loss":-2.2},{"date":"2010-08-13","loss":-2.35},{"date":"2010-08-13","loss":-2.45},
{"date":"2010-08-14","loss":-2.25},{"date":"2010-08-14","loss":-2.4},{"date":"2010-08-14","loss":-2.55},{"date":"2010-08-14","loss":-2.65},
{"date":"2010-08-15","loss":-2.1},{"date":"2010-08-15","loss":-2.35},{"date":"2010-08-15","loss":-2.5},{"date":"2010-08-15","loss":-2.6},
{"date":"2010-08-16","loss":-1.55},{"date":"2010-08-16","loss":-1.8},{"date":"2010-08-16","loss":-2.0},{"date":"2010-08-16","loss":-2.2},
{"date":"2010-08-17","loss":-1.3},{"date":"2010-08-17","loss":-1.5},{"date":"2010-08-17","loss":-1.6},{"date":"2010-08-17","loss":-1.8},
{"date":"2010-08-18","loss":-0.75},{"date":"2010-08-18","loss":-1.05},{"date":"2010-08-18","loss":-1.2},{"date":"2010-08-18","loss":-1.4},{"date":"2010-08-18","loss":-1.5},{"date":"2010-08-18","loss":-1.9},
{"date":"2010-08-19","loss":-1.1},{"date":"2010-08-19","loss":-1.15},{"date":"2010-08-19","loss":-1.4},{"date":"2010-08-19","loss":-1.65},{"date":"2010-08-19","loss":-2.3},
{"date":"2010-08-20","loss":-1.0},{"date":"2010-08-20","loss":-1.2},{"date":"2010-08-20","loss":-1.3},{"date":"2010-08-20","loss":-1.5},{"date":"2010-08-20","loss":-2.95},
{"date":"2010-08-21","loss":-1.6},{"date":"2010-08-21","loss":-1.85},{"date":"2010-08-21","loss":-1.95},{"date":"2010-08-21","loss":-2.05},{"date":"2010-08-21","loss":-2.2},
{"date":"2010-08-22","loss":-1.9},{"date":"2010-08-22","loss":-2.0},{"date":"2010-08-22","loss":-2.1},{"date":"2010-08-22","loss":-2.4},
{"date":"2010-08-23","loss":-1.1},{"date":"2010-08-23","loss":-1.7},{"date":"2010-08-23","loss":-2.0},{"date":"2010-08-23","loss":-2.05},
{"date":"2010-08-24","loss":-1.1},{"date":"2010-08-24","loss":-1.2},{"date":"2010-08-24","loss":-1.4},
{"date":"2010-08-30","loss":-0.05},{"date":"2010-08-30","loss":-0.3},{"date":"2010-08-30","loss":-0.5},{"date":"2010-08-30","loss":-0.7},{"date":"2010-08-30","loss":-1.2},
{"date":"2010-08-31","loss":-0.3},{"date":"2010-08-31","loss":-0.6},{"date":"2010-08-31","loss":-0.75},{"date":"2010-08-31","loss":-0.85},{"date":"2010-08-31","loss":-0.95},
{"date":"2010-09-01","loss":-0.45},{"date":"2010-09-01","loss":-0.65},{"date":"2010-09-01","loss":-0.75},{"date":"2010-09-01","loss":-0.9},{"date":"2010-09-01","loss":-1.05},
{"date":"2010-09-02","loss":-0.55},{"date":"2010-09-02","loss":-0.7},{"date":"2010-09-02","loss":-0.8},{"date":"2010-09-02","loss":-0.9},{"date":"2010-09-02","loss":-1.0},
{"date":"2010-09-03","loss":-0.6},{"date":"2010-09-03","loss":-0.7},{"date":"2010-09-03","loss":-0.85},{"date":"2010-09-03","loss":-0.95},{"date":"2010-09-03","loss":-1.1},
{"date":"2010-09-04","loss":0.5},{"date":"2010-09-04","loss":0.2},{"date":"2010-09-04","loss":-0.7},{"date":"2010-09-04","loss":-0.8},{"date":"2010-09-04","loss":-1.3},{"date":"2010-09-04","loss":-1.5},{"date":"2010-09-04","loss":-1.7},
{"date":"2010-09-05","loss":-0.75},{"date":"2010-09-05","loss":-0.9},{"date":"2010-09-05","loss":-1.05},{"date":"2010-09-05","loss":-1.7},{"date":"2010-09-05","loss":-2.0},
{"date":"2010-09-06","loss":-0.6},{"date":"2010-09-06","loss":-0.75},{"date":"2010-09-06","loss":-0.8},{"date":"2010-09-06","loss":-0.95},
{"date":"2010-09-07","loss":-0.5},{"date":"2010-09-07","loss":-0.65},{"date":"2010-09-07","loss":-0.7},{"date":"2010-09-07","loss":-0.85},
{"date":"2010-09-08","loss":-0.55},{"date":"2010-09-08","loss":-0.7},{"date":"2010-09-08","loss":-0.8},{"date":"2010-09-08","loss":-0.95},
{"date":"2010-09-09","loss":-0.4},{"date":"2010-09-09","loss":-0.6},{"date":"2010-09-09","loss":-0.7},
{"date":"2010-09-10","loss":-0.5},{"date":"2010-09-10","loss":-0.65},{"date":"2010-09-10","loss":-0.8},{"date":"2010-09-10","loss":-0.9},
{"date":"2010-09-11","loss":-0.3},{"date":"2010-09-11","loss":-0.45},{"date":"2010-09-11","loss":-0.6},
{"date":"2010-09-12","loss":-0.2},{"date":"2010-09-12","loss":-0.4},{"date":"2010-09-12","loss":-0.55},{"date":"2010-09-12","loss":-0.7},
{"date":"2010-09-13","loss":-0.1},{"date":"2010-09-13","loss":-0.2},{"date":"2010-09-13","loss":-0.35},{"date":"2010-09-13","loss":-0.5},
{"date":"2010-09-14","loss":0.0},{"date":"2010-09-14","loss":-0.15},{"date":"2010-09-14","loss":-0.3},{"date":"2010-09-14","loss":-0.45},
{"date":"2010-09-15","loss":0.2},{"date":"2010-09-15","loss":0.1},{"date":"2010-09-15","loss":-0.05},{"date":"2010-09-15","loss":-0.25},
{"date":"2010-09-16","loss":0.3},{"date":"2010-09-16","loss":0.15},{"date":"2010-09-16","loss":-0.1},{"date":"2010-09-16","loss":-0.4},
{"date":"2010-09-17","loss":0.15},{"date":"2010-09-17","loss":0.0},{"date":"2010-09-17","loss":-0.2},{"date":"2010-09-17","loss":-0.35},{"date":"2010-09-17","loss":-0.5},
{"date":"2010-09-18","loss":0.2},{"date":"2010-09-18","loss":0.05},{"date":"2010-09-18","loss":-0.15},{"date":"2010-09-18","loss":-0.3},
{"date":"2010-09-19","loss":-0.05},{"date":"2010-09-19","loss":-0.2},{"date":"2010-09-19","loss":-0.4},{"date":"2010-09-19","loss":-0.55},{"date":"2010-09-19","loss":-1.0},
{"date":"2010-09-20","loss":-0.1},{"date":"2010-09-20","loss":-0.3},{"date":"2010-09-20","loss":-0.45},{"date":"2010-09-20","loss":-0.6},{"date":"2010-09-20","loss":-1.0},
{"date":"2010-09-21","loss":0.0},{"date":"2010-09-21","loss":-0.2},{"date":"2010-09-21","loss":-0.35},
{"date":"2010-09-22","loss":0.1},{"date":"2010-09-22","loss":-0.1},{"date":"2010-09-22","loss":-0.25},{"date":"2010-09-22","loss":-0.4},
{"date":"2010-09-23","loss":0.55},{"date":"2010-09-23","loss":0.3},{"date":"2010-09-23","loss":0.05},{"date":"2010-09-23","loss":-0.1},
{"date":"2010-09-24","loss":0.7},{"date":"2010-09-24","loss":0.4},{"date":"2010-09-24","loss":0.0},{"date":"2010-09-24","loss":-0.2},
{"date":"2010-09-25","loss":-0.15},{"date":"2010-09-25","loss":-0.3},{"date":"2010-09-25","loss":-0.45},{"date":"2010-09-25","loss":-0.8},
{"date":"2010-09-26","loss":-0.3},{"date":"2010-09-26","loss":-0.5},{"date":"2010-09-26","loss":-0.7},{"date":"2010-09-26","loss":-0.9},
{"date":"2010-09-27","loss":-0.2},{"date":"2010-09-27","loss":-0.4},{"date":"2010-09-27","loss":-0.6},
{"date":"2010-09-28","loss":0.05},{"date":"2010-09-28","loss":-0.1},{"date":"2010-09-28","loss":-0.35},{"date":"2010-09-28","loss":-0.55},
{"date":"2010-09-29","loss":-0.1},{"date":"2010-09-29","loss":-0.25},{"date":"2010-09-29","loss":-0.5},{"date":"2010-09-29","loss":-0.8},{"date":"2010-09-29","loss":-1.3},
{"date":"2010-09-30","loss":0.0},{"date":"2010-09-30","loss":-0.2},{"date":"2010-09-30","loss":-0.35},{"date":"2010-09-30","loss":-0.6},
{"date":"2010-10-01","loss":0.45},{"date":"2010-10-01","loss":0.1},{"date":"2010-10-01","loss":-0.15},{"date":"2010-10-01","loss":-0.4},
{"date":"2010-10-02","loss":0.4},{"date":"2010-10-02","loss":0.05},{"date":"2010-10-02","loss":-0.2},{"date":"2010-10-02","loss":-0.45},{"date":"2010-10-02","loss":-0.7},
{"date":"2010-10-03","loss":-0.05},{"date":"2010-10-03","loss":-0.3},{"date":"2010-10-03","loss":-0.5},{"date":"2010-10-03","loss":-0.7},{"date":"2010-10-03","loss":-0.9},
{"date":"2010-10-04","loss":0.0},{"date":"2010-10-04","loss":-0.2},{"date":"2010-10-04","loss":-0.4},{"date":"2010-10-04","loss":-0.6},{"date":"2010-10-04","loss":-1.0},
{"date":"2010-10-05","loss":-0.1},{"date":"2010-10-05","loss":-0.3},{"date":"2010-10-05","loss":-0.55},{"date":"2010-10-05","loss":-0.8},
{"date":"2010-10-06","loss":-0.05},{"date":"2010-10-06","loss":-0.25},{"date":"2010-10-06","loss":-0.5},{"date":"2010-10-06","loss":-1.05},
{"date":"2010-10-07","loss":-0.1},{"date":"2010-10-07","loss":-0.35},{"date":"2010-10-07","loss":-0.6},
{"date":"2010-10-08","loss":-0.8},{"date":"2010-10-08","loss":-0.95},{"date":"2010-10-08","loss":-1.1},
{"date":"2010-10-09","loss":-0.9},{"date":"2010-10-09","loss":-1.05},{"date":"2010-10-09","loss":-1.2},{"date":"2010-10-09","loss":-1.25},
{"date":"2010-10-10","loss":-1.0},{"date":"2010-10-10","loss":-1.2},{"date":"2010-10-10","loss":-1.35},{"date":"2010-10-10","loss":-1.5},
{"date":"2010-10-11","loss":-1.3},{"date":"2010-10-11","loss":-1.45},{"date":"2010-10-11","loss":-1.6},{"date":"2010-10-11","loss":-1.8},{"date":"2010-10-11","loss":-1.9},
{"date":"2010-10-12","loss":-1.35},{"date":"2010-10-12","loss":-1.5},{"date":"2010-10-12","loss":-1.65},{"date":"2010-10-12","loss":-1.8},{"date":"2010-10-12","loss":-1.95},
{"date":"2010-10-13","loss":-1.4},{"date":"2010-10-13","loss":-1.55},{"date":"2010-10-13","loss":-1.7},{"date":"2010-10-13","loss":-1.85},
{"date":"2010-10-14","loss":-1.45},{"date":"2010-10-14","loss":-1.6},{"date":"2010-10-14","loss":-1.75},{"date":"2010-10-14","loss":-1.9},{"date":"2010-10-14","loss":-2.45},
{"date":"2010-10-15","loss":-1.25},{"date":"2010-10-15","loss":-1.5},{"date":"2010-10-15","loss":-1.6},{"date":"2010-10-15","loss":-1.7},
{"date":"2010-10-16","loss":0.5},{"date":"2010-10-16","loss":0.2},{"date":"2010-10-16","loss":0.0},{"date":"2010-10-16","loss":-0.3},
{"date":"2010-10-17","loss":0.3},{"date":"2010-10-17","loss":0.05},{"date":"2010-10-17","loss":-0.2},{"date":"2010-10-17","loss":-0.4},{"date":"2010-10-17","loss":-0.1},
{"date":"2010-10-18","loss":1.0},{"date":"2010-10-18","loss":0.8},{"date":"2010-10-18","loss":0.6},{"date":"2010-10-18","loss":0.4},{"date":"2010-10-18","loss":0.2},
{"date":"2010-10-19","loss":1.3},{"date":"2010-10-19","loss":1.15},{"date":"2010-10-19","loss":0.9},{"date":"2010-10-19","loss":0.7},{"date":"2010-10-19","loss":0.5},
{"date":"2010-10-20","loss":1.0},{"date":"2010-10-20","loss":0.75},{"date":"2010-10-20","loss":0.55},{"date":"2010-10-20","loss":0.35},
{"date":"2010-10-21","loss":0.85},{"date":"2010-10-21","loss":0.6},{"date":"2010-10-21","loss":0.4},{"date":"2010-10-21","loss":0.2},
{"date":"2010-10-22","loss":0.7},{"date":"2010-10-22","loss":0.5},{"date":"2010-10-22","loss":0.3},{"date":"2010-10-22","loss":0.15},
{"date":"2010-10-23","loss":0.95},{"date":"2010-10-23","loss":0.7},{"date":"2010-10-23","loss":0.45},{"date":"2010-10-23","loss":0.2},
{"date":"2010-10-24","loss":0.6},{"date":"2010-10-24","loss":0.4},{"date":"2010-10-24","loss":0.25},{"date":"2010-10-24","loss":0.05},
{"date":"2010-10-25","loss":0.75},{"date":"2010-10-25","loss":0.55},{"date":"2010-10-25","loss":0.35},{"date":"2010-10-25","loss":0.1},
{"date":"2010-10-26","loss":0.65},{"date":"2010-10-26","loss":0.45},{"date":"2010-10-26","loss":0.3},{"date":"2010-10-26","loss":-0.05},
{"date":"2010-10-27","loss":0.5},{"date":"2010-10-27","loss":0.35},{"date":"2010-10-27","loss":0.15},{"date":"2010-10-27","loss":0.0},
{"date":"2010-10-28","loss":0.45},{"date":"2010-10-28","loss":0.25},{"date":"2010-10-28","loss":0.05},{"date":"2010-10-28","loss":-0.15},
{"date":"2010-10-29","loss":0.3},{"date":"2010-10-29","loss":0.1},{"date":"2010-10-29","loss":-0.6},
{"date":"2010-10-30","loss":0.2},{"date":"2010-10-30","loss":0.0},{"date":"2010-10-30","loss":-0.2},
{"date":"2010-11-02","loss":0.6},{"date":"2010-11-02","loss":0.4},
{"date":"2010-11-03","loss":0.3},{"date":"2010-11-03","loss":0.1},{"date":"2010-11-03","loss":-0.2},
{"date":"2010-11-06","loss":0.9},{"date":"2010-11-06","loss":0.75},
{"date":"2010-11-08","loss":1.1},{"date":"2010-11-08","loss":0.95},{"date":"2010-11-08","loss":0.8},
{"date":"2010-11-10","loss":1.45},{"date":"2010-11-10","loss":0.95},{"date":"2010-11-10","loss":0.9},
{"date":"2010-11-12","loss":1.45},{"date":"2010-11-12","loss":1.0},
{"date":"2010-11-14","loss":1.7},{"date":"2010-11-14","loss":0.9},{"date":"2010-11-14","loss":0.7},
{"date":"2010-11-17","loss":1.3},{"date":"2010-11-17","loss":1.0},{"date":"2010-11-17","loss":0.75},
{"date":"2010-11-18","loss":0.85},{"date":"2010-11-18","loss":0.65},{"date":"2010-11-18","loss":0.5},{"date":"2010-11-18","loss":0.3},
{"date":"2010-11-19","loss":0.7},{"date":"2010-11-19","loss":0.5},{"date":"2010-11-19","loss":0.35},{"date":"2010-11-19","loss":-0.1},
{"date":"2010-11-20","loss":0.95},{"date":"2010-11-20","loss":0.6},{"date":"2010-11-20","loss":0.4},{"date":"2010-11-20","loss":0.2},
{"date":"2010-11-21","loss":0.8},{"date":"2010-11-21","loss":0.55},{"date":"2010-11-21","loss":0.45},
{"date":"2010-11-22","loss":1.25},{"date":"2010-11-22","loss":0.75},{"date":"2010-11-22","loss":0.6},{"date":"2010-11-22","loss":0.4},
{"date":"2010-11-23","loss":0.9},{"date":"2010-11-23","loss":0.7},{"date":"2010-11-23","loss":0.5},
{"date":"2010-11-24","loss":1.0},{"date":"2010-11-24","loss":0.65},{"date":"2010-11-24","loss":0.5},{"date":"2010-11-24","loss":0.3},
{"date":"2010-11-25","loss":0.8},{"date":"2010-11-25","loss":0.6},
{"date":"2011-01-16","loss":1.05},{"date":"2011-01-16","loss":0.9},{"date":"2011-01-16","loss":0.7},
{"date":"2011-01-17","loss":0.6},{"date":"2011-01-17","loss":0.5},{"date":"2011-01-17","loss":0.4},
{"date":"2011-01-19","loss":0.45},{"date":"2011-01-19","loss":0.2},
{"date":"2011-01-21","loss":0.4},{"date":"2011-01-21","loss":0.25},
{"date":"2011-01-22","loss":1.35},{"date":"2011-01-22","loss":1.2},{"date":"2011-01-22","loss":0.9},{"date":"2011-01-22","loss":0.75},
{"date":"2011-01-23","loss":1.25},{"date":"2011-01-23","loss":1.0},{"date":"2011-01-23","loss":0.8},{"date":"2011-01-23","loss":0.6},
{"date":"2011-01-24","loss":0.85},{"date":"2011-01-24","loss":0.65},{"date":"2011-01-24","loss":0.45},{"date":"2011-01-24","loss":0.3},
{"date":"2011-01-25","loss":0.7},{"date":"2011-01-25","loss":0.5},{"date":"2011-01-25","loss":0.35},{"date":"2011-01-25","loss":0.1},
{"date":"2011-01-26","loss":0.55},{"date":"2011-01-26","loss":0.4},{"date":"2011-01-26","loss":0.2},{"date":"2011-01-26","loss":0.05},
{"date":"2011-01-27","loss":0.6},{"date":"2011-01-27","loss":0.3},{"date":"2011-01-27","loss":0.15},{"date":"2011-01-27","loss":0.0},
{"date":"2011-01-28","loss":0.45},{"date":"2011-01-28","loss":0.25},{"date":"2011-01-28","loss":0.05},
{"date":"2011-01-29","loss":0.35},{"date":"2011-01-29","loss":0.15},{"date":"2011-01-29","loss":-0.05},
{"date":"2011-01-30","loss":0.3},{"date":"2011-01-30","loss":0.1},
{"date":"2011-02-02","loss":1.1},{"date":"2011-02-02","loss":0.65},
{"date":"2011-02-05","loss":0.25},{"date":"2011-02-05","loss":0.1},{"date":"2011-02-05","loss":-0.15},
{"date":"2011-02-06","loss":0.05},{"date":"2011-02-06","loss":-0.2},{"date":"2011-02-06","loss":-0.4},
{"date":"2011-02-07","loss":-0.3},{"date":"2011-02-07","loss":-0.5},{"date":"2011-02-07","loss":-0.65},
{"date":"2011-02-08","loss":-0.45},{"date":"2011-02-08","loss":-0.6},{"date":"2011-02-08","loss":-0.8},
{"date":"2011-02-09","loss":-0.35},{"date":"2011-02-09","loss":-0.55},{"date":"2011-02-09","loss":-0.75},
{"date":"2011-02-11","loss":0.0},{"date":"2011-02-11","loss":-0.1},{"date":"2011-02-11","loss":-0.3},
{"date":"2011-02-12","loss":0.3},{"date":"2011-02-12","loss":0.1},{"date":"2011-02-12","loss":-0.2},{"date":"2011-02-12","loss":-0.4},
{"date":"2011-02-13","loss":0.5},{"date":"2011-02-13","loss":0.15},{"date":"2011-02-13","loss":-0.05},{"date":"2011-02-13","loss":-0.3},
{"date":"2011-02-14","loss":0.0},{"date":"2011-02-14","loss":-0.2},{"date":"2011-02-14","loss":-0.45},{"date":"2011-02-14","loss":-0.6},
{"date":"2011-02-15","loss":0.25},{"date":"2011-02-15","loss":-0.1},{"date":"2011-02-15","loss":-0.35},{"date":"2011-02-15","loss":-0.7},
{"date":"2011-02-16","loss":0.55},{"date":"2011-02-16","loss":0.2},{"date":"2011-02-16","loss":-0.1},{"date":"2011-02-16","loss":-0.5},
{"date":"2011-02-17","loss":0.1},{"date":"2011-02-17","loss":-0.15},{"date":"2011-02-17","loss":-0.4},{"date":"2011-02-17","loss":-0.8},
{"date":"2011-02-18","loss":1.2},{"date":"2011-02-18","loss":0.7},{"date":"2011-02-18","loss":0.3},{"date":"2011-02-18","loss":0.0},
{"date":"2011-02-19","loss":0.35},{"date":"2011-02-19","loss":0.05},{"date":"2011-02-19","loss":-0.25},{"date":"2011-02-19","loss":-0.55},
{"date":"2011-02-20","loss":0.2},{"date":"2011-02-20","loss":-0.1},{"date":"2011-02-20","loss":-0.4},{"date":"2011-02-20","loss":-0.75},
{"date":"2011-02-21","loss":0.05},{"date":"2011-02-21","loss":-0.3},{"date":"2011-02-21","loss":-0.6},{"date":"2011-02-21","loss":-1.0},
{"date":"2011-02-22","loss":-0.2},{"date":"2011-02-22","loss":-0.5},{"date":"2011-02-22","loss":-0.85},
{"date":"2011-03-01","loss":1.1},{"date":"2011-03-01","loss":0.8},{"date":"2011-03-01","loss":0.6},{"date":"2011-03-01","loss":0.4},
{"date":"2011-03-02","loss":0.5},{"date":"2011-03-02","loss":0.35},{"date":"2011-03-02","loss":0.2},
{"date":"2011-03-03","loss":0.3},{"date":"2011-03-03","loss":0.15},{"date":"2011-03-03","loss":0.0},{"date":"2011-03-03","loss":-0.2},
{"date":"2011-03-04","loss":0.45},{"date":"2011-03-04","loss":0.25},{"date":"2011-03-04","loss":0.1},
{"date":"2011-03-05","loss":0.7},{"date":"2011-03-05","loss":0.4},{"date":"2011-03-05","loss":0.2},{"date":"2011-03-05","loss":0.0},
{"date":"2011-03-06","loss":0.5},{"date":"2011-03-06","loss":0.3},{"date":"2011-03-06","loss":0.15},{"date":"2011-03-06","loss":-0.05},
{"date":"2011-03-07","loss":0.35},{"date":"2011-03-07","loss":0.2},{"date":"2011-03-07","loss":-0.95},
{"date":"2011-03-08","loss":0.6},{"date":"2011-03-08","loss":0.25},{"date":"2011-03-08","loss":0.1},{"date":"2011-03-08","loss":-0.2},
{"date":"2011-03-09","loss":0.4},{"date":"2011-03-09","loss":0.1},{"date":"2011-03-09","loss":-0.3},
{"date":"2011-03-10","loss":-0.3},{"date":"2011-03-10","loss":-0.5},{"date":"2011-03-10","loss":-0.6},
{"date":"2011-03-11","loss":-0.6},{"date":"2011-03-11","loss":-0.8},{"date":"2011-03-11","loss":-1.0},{"date":"2011-03-11","loss":-1.2},
{"date":"2011-03-12","loss":-0.8},{"date":"2011-03-12","loss":-1.0},{"date":"2011-03-12","loss":-1.2},{"date":"2011-03-12","loss":-1.4},
{"date":"2011-03-13","loss":-0.9},{"date":"2011-03-13","loss":-1.1},{"date":"2011-03-13","loss":-1.3},{"date":"2011-03-13","loss":-1.5},
{"date":"2011-03-14","loss":-0.95},{"date":"2011-03-14","loss":-1.15},{"date":"2011-03-14","loss":-1.25},{"date":"2011-03-14","loss":-1.45},
{"date":"2011-03-15","loss":-1.0},{"date":"2011-03-15","loss":-1.2},{"date":"2011-03-15","loss":-1.35},{"date":"2011-03-15","loss":-1.6},
{"date":"2011-03-16","loss":-0.85},{"date":"2011-03-16","loss":-1.05},{"date":"2011-03-16","loss":-1.3},{"date":"2011-03-16","loss":-1.55},
{"date":"2011-03-17","loss":-1.1},{"date":"2011-03-17","loss":-1.25},{"date":"2011-03-17","loss":-1.4},{"date":"2011-03-17","loss":-2.0},
{"date":"2011-03-18","loss":-1.0},{"date":"2011-03-18","loss":-1.15},{"date":"2011-03-18","loss":-1.35},{"date":"2011-03-18","loss":-1.5},
{"date":"2011-03-19","loss":-0.9},{"date":"2011-03-19","loss":-1.2},{"date":"2011-03-19","loss":-1.3},{"date":"2011-03-19","loss":-1.45},
{"date":"2011-03-20","loss":-1.05},{"date":"2011-03-20","loss":-1.25},{"date":"2011-03-20","loss":-1.4},
{"date":"2011-03-21","loss":-0.7},{"date":"2011-03-21","loss":-0.9},{"date":"2011-03-21","loss":-1.1},{"date":"2011-03-21","loss":-1.35},
{"date":"2011-03-22","loss":-0.5},{"date":"2011-03-22","loss":-0.8},{"date":"2011-03-22","loss":-1.0},{"date":"2011-03-22","loss":-1.2},{"date":"2011-03-22","loss":-1.5},
{"date":"2011-03-23","loss":-0.45},{"date":"2011-03-23","loss":-0.7},{"date":"2011-03-23","loss":-0.95},{"date":"2011-03-23","loss":-1.1},
{"date":"2011-03-24","loss":-0.6},{"date":"2011-03-24","loss":-0.85},{"date":"2011-03-24","loss":-1.05},{"date":"2011-03-24","loss":-1.3},{"date":"2011-03-24","loss":-1.6},
{"date":"2011-03-25","loss":0.1},{"date":"2011-03-25","loss":-0.9},{"date":"2011-03-25","loss":-1.15},{"date":"2011-03-25","loss":-1.4},
{"date":"2011-03-26","loss":-0.8},{"date":"2011-03-26","loss":-1.0},{"date":"2011-03-26","loss":-1.2},{"date":"2011-03-26","loss":-1.45},
{"date":"2011-03-27","loss":-0.95},{"date":"2011-03-27","loss":-1.1},{"date":"2011-03-27","loss":-1.3},{"date":"2011-03-27","loss":-1.5},
{"date":"2011-03-28","loss":-0.85},{"date":"2011-03-28","loss":-1.05},{"date":"2011-03-28","loss":-1.25},{"date":"2011-03-28","loss":-1.4},
{"date":"2011-03-29","loss":-0.9},{"date":"2011-03-29","loss":-1.15},{"date":"2011-03-29","loss":-1.35},{"date":"2011-03-29","loss":-1.55},
{"date":"2011-03-30","loss":-1.0},{"date":"2011-03-30","loss":-1.2},{"date":"2011-03-30","loss":-1.45},{"date":"2011-03-30","loss":-2.1},
{"date":"2011-03-31","loss":-1.05},{"date":"2011-03-31","loss":-1.25},{"date":"2011-03-31","loss":-1.4},{"date":"2011-03-31","loss":-1.6},
{"date":"2011-04-01","loss":-0.3},{"date":"2011-04-01","loss":-0.5},{"date":"2011-04-01","loss":-0.9},{"date":"2011-04-01","loss":-1.1},
{"date":"2011-04-02","loss":-0.8},{"date":"2011-04-02","loss":-1.0},{"date":"2011-04-02","loss":-1.15},{"date":"2011-04-02","loss":-1.35},
{"date":"2011-04-03","loss":-0.7},{"date":"2011-04-03","loss":-0.95},{"date":"2011-04-03","loss":-1.1},{"date":"2011-04-03","loss":-1.3},
{"date":"2011-04-04","loss":-0.9},{"date":"2011-04-04","loss":-1.05},{"date":"2011-04-04","loss":-1.2},{"date":"2011-04-04","loss":-1.4},
{"date":"2011-04-05","loss":-0.95},{"date":"2011-04-05","loss":-1.15},{"date":"2011-04-05","loss":-1.3},{"date":"2011-04-05","loss":-1.5},
{"date":"2011-04-06","loss":-0.85},{"date":"2011-04-06","loss":-1.1},{"date":"2011-04-06","loss":-1.25},{"date":"2011-04-06","loss":-1.45},
{"date":"2011-04-07","loss":-1.0},{"date":"2011-04-07","loss":-1.2},{"date":"2011-04-07","loss":-1.35},{"date":"2011-04-07","loss":-1.6},
{"date":"2011-04-08","loss":-1.1},{"date":"2011-04-08","loss":-1.3},{"date":"2011-04-08","loss":-1.45},{"date":"2011-04-08","loss":-1.7},
{"date":"2011-04-09","loss":-0.45},{"date":"2011-04-09","loss":-1.0},{"date":"2011-04-09","loss":-1.25},{"date":"2011-04-09","loss":-1.55},{"date":"2011-04-09","loss":-2.05},
{"date":"2011-04-10","loss":-1.15},{"date":"2011-04-10","loss":-1.35},{"date":"2011-04-10","loss":-1.5},{"date":"2011-04-10","loss":-1.75},
{"date":"2011-04-11","loss":-0.9},{"date":"2011-04-11","loss":-1.2},{"date":"2011-04-11","loss":-1.4},{"date":"2011-04-11","loss":-1.65},
{"date":"2011-04-12","loss":-1.2},{"date":"2011-04-12","loss":-1.45},{"date":"2011-04-12","loss":-1.6},{"date":"2011-04-12","loss":-1.85},
{"date":"2011-04-13","loss":-1.3},{"date":"2011-04-13","loss":-1.5},{"date":"2011-04-13","loss":-1.7},{"date":"2011-04-13","loss":-1.9},
{"date":"2011-04-14","loss":-1.25},{"date":"2011-04-14","loss":-1.55},{"date":"2011-04-14","loss":-1.75},{"date":"2011-04-14","loss":-2.0},
{"date":"2011-04-15","loss":-1.4},{"date":"2011-04-15","loss":-1.6},{"date":"2011-04-15","loss":-1.8},{"date":"2011-04-15","loss":-2.05},
{"date":"2011-04-16","loss":-1.35},{"date":"2011-04-16","loss":-1.65},{"date":"2011-04-16","loss":-1.85},{"date":"2011-04-16","loss":-2.1},
{"date":"2011-04-17","loss":-1.5},{"date":"2011-04-17","loss":-1.7},{"date":"2011-04-17","loss":-1.9},{"date":"2011-04-17","loss":-2.2},
{"date":"2011-04-18","loss":-1.45},{"date":"2011-04-18","loss":-1.75},{"date":"2011-04-18","loss":-1.95},{"date":"2011-04-18","loss":-2.15},
{"date":"2011-04-19","loss":-1.55},{"date":"2011-04-19","loss":-1.8},{"date":"2011-04-19","loss":-2.0},{"date":"2011-04-19","loss":-2.3},
{"date":"2011-04-20","loss":-1.6},{"date":"2011-04-20","loss":-1.85},{"date":"2011-04-20","loss":-2.05},{"date":"2011-04-20","loss":-2.65},
{"date":"2011-04-21","loss":-1.5},{"date":"2011-04-21","loss":-1.75},{"date":"2011-04-21","loss":-2.0},{"date":"2011-04-21","loss":-2.25},
{"date":"2011-04-22","loss":-1.65},{"date":"2011-04-22","loss":-1.9},{"date":"2011-04-22","loss":-2.1},{"date":"2011-04-22","loss":-2.35},
{"date":"2011-04-23","loss":-1.4},{"date":"2011-04-23","loss":-1.7},{"date":"2011-04-23","loss":-1.95},{"date":"2011-04-23","loss":-2.2},
{"date":"2011-04-24","loss":-1.3},{"date":"2011-04-24","loss":-1.6},{"date":"2011-04-24","loss":-1.85},{"date":"2011-04-24","loss":-2.1},
{"date":"2011-04-25","loss":-1.5},{"date":"2011-04-25","loss":-1.75},{"date":"2011-04-25","loss":-2.0},{"date":"2011-04-25","loss":-2.3},
{"date":"2011-04-26","loss":-1.55},{"date":"2011-04-26","loss":-1.8},{"date":"2011-04-26","loss":-2.05},{"date":"2011-04-26","loss":-2.4},
{"date":"2011-04-27","loss":-1.2},{"date":"2011-04-27","loss":-1.6},{"date":"2011-04-27","loss":-1.9},{"date":"2011-04-27","loss":-2.15},
{"date":"2011-04-28","loss":-1.45},{"date":"2011-04-28","loss":-1.7},{"date":"2011-04-28","loss":-1.95},{"date":"2011-04-28","loss":-2.25},
{"date":"2011-04-29","loss":-1.6},{"date":"2011-04-29","loss":-1.85},{"date":"2011-04-29","loss":-2.1},{"date":"2011-04-29","loss":-2.45},
{"date":"2011-04-30","loss":-1.35},{"date":"2011-04-30","loss":-1.65},{"date":"2011-04-30","loss":-1.9},{"date":"2011-04-30","loss":-2.2},
{"date":"2011-05-01","loss":-1.5},{"date":"2011-05-01","loss":-1.75},{"date":"2011-05-01","loss":-2.0},{"date":"2011-05-01","loss":-2.3},
{"date":"2011-05-02","loss":-1.6},{"date":"2011-05-02","loss":-1.85},{"date":"2011-05-02","loss":-2.1},{"date":"2011-05-02","loss":-2.5},
{"date":"2011-05-03","loss":-1.45},{"date":"2011-05-03","loss":-1.8},{"date":"2011-05-03","loss":-2.05},{"date":"2011-05-03","loss":-2.35},
{"date":"2011-05-04","loss":-1.55},{"date":"2011-05-04","loss":-1.9},{"date":"2011-05-04","loss":-2.15},{"date":"2011-05-04","loss":-2.75},
{"date":"2011-05-05","loss":-1.4},{"date":"2011-05-05","loss":-1.7},{"date":"2011-05-05","loss":-2.0},{"date":"2011-05-05","loss":-2.25},
{"date":"2011-05-06","loss":-1.5},{"date":"2011-05-06","loss":-1.8},{"date":"2011-05-06","loss":-1.95},{"date":"2011-05-06","loss":-2.2},
{"date":"2011-05-07","loss":-1.6},{"date":"2011-05-07","loss":-1.85},{"date":"2011-05-07","loss":-2.1},{"date":"2011-05-07","loss":-2.8},
{"date":"2011-05-08","loss":-1.3},{"date":"2011-05-08","loss":-1.55},{"date":"2011-05-08","loss":-1.75},{"date":"2011-05-08","loss":-2.0},
{"date":"2011-05-09","loss":-1.2},{"date":"2011-05-09","loss":-1.45},{"date":"2011-05-09","loss":-1.7},{"date":"2011-05-09","loss":-1.95},
{"date":"2011-05-10","loss":-1.35},{"date":"2011-05-10","loss":-1.6},{"date":"2011-05-10","loss":-1.8},{"date":"2011-05-10","loss":-2.1},
{"date":"2011-05-11","loss":-0.65},{"date":"2011-05-11","loss":-1.25},{"date":"2011-05-11","loss":-1.5},{"date":"2011-05-11","loss":-1.7},{"date":"2011-05-11","loss":-2.0},
{"date":"2011-05-12","loss":-1.15},{"date":"2011-05-12","loss":-1.4},{"date":"2011-05-12","loss":-1.65},{"date":"2011-05-12","loss":-1.9},
{"date":"2011-05-13","loss":-1.3},{"date":"2011-05-13","loss":-1.5},{"date":"2011-05-13","loss":-1.75},{"date":"2011-05-13","loss":-2.05},
{"date":"2011-05-14","loss":-1.2},{"date":"2011-05-14","loss":-1.45},{"date":"2011-05-14","loss":-1.6},{"date":"2011-05-14","loss":-1.85},
{"date":"2011-05-15","loss":-1.4},{"date":"2011-05-15","loss":-1.55},{"date":"2011-05-15","loss":-1.7},{"date":"2011-05-15","loss":-1.95},
{"date":"2011-05-16","loss":-1.1},{"date":"2011-05-16","loss":-1.35},{"date":"2011-05-16","loss":-1.6},{"date":"2011-05-16","loss":-1.8},
{"date":"2011-05-17","loss":-1.25},{"date":"2011-05-17","loss":-1.5},{"date":"2011-05-17","loss":-1.65},{"date":"2011-05-17","loss":-2.0},
{"date":"2011-05-18","loss":-1.45},{"date":"2011-05-18","loss":-1.6},{"date":"2011-05-18","loss":-1.8},{"date":"2011-05-18","loss":-2.1},
{"date":"2011-05-19","loss":-1.3},{"date":"2011-05-19","loss":-1.55},{"date":"2011-05-19","loss":-1.75},{"date":"2011-05-19","loss":-1.95},
{"date":"2011-05-20","loss":-0.8},{"date":"2011-05-20","loss":-1.4},{"date":"2011-05-20","loss":-1.65},{"date":"2011-05-20","loss":-1.9},
{"date":"2011-05-21","loss":-1.5},{"date":"2011-05-21","loss":-1.7},{"date":"2011-05-21","loss":-1.85},{"date":"2011-05-21","loss":-2.15},
{"date":"2011-05-22","loss":-1.35},{"date":"2011-05-22","loss":-1.6},{"date":"2011-05-22","loss":-1.8},{"date":"2011-05-22","loss":-2.05},
{"date":"2011-05-23","loss":-1.55},{"date":"2011-05-23","loss":-1.75},{"date":"2011-05-23","loss":-1.95},{"date":"2011-05-23","loss":-2.25},
{"date":"2011-05-24","loss":-1.45},{"date":"2011-05-24","loss":-1.7},{"date":"2011-05-24","loss":-1.9},{"date":"2011-05-24","loss":-2.1},
{"date":"2011-05-25","loss":-1.2},{"date":"2011-05-25","loss":-1.5},{"date":"2011-05-25","loss":-1.8},{"date":"2011-05-25","loss":-2.35},
{"date":"2011-05-26","loss":-0.75},{"date":"2011-05-26","loss":-1.4},{"date":"2011-05-26","loss":-1.65},{"date":"2011-05-26","loss":-1.9},
{"date":"2011-05-27","loss":-1.6},{"date":"2011-05-27","loss":-1.8},{"date":"2011-05-27","loss":-2.0},{"date":"2011-05-27","loss":-2.3},
{"date":"2011-05-28","loss":-1.5},{"date":"2011-05-28","loss":-1.7},{"date":"2011-05-28","loss":-1.95},{"date":"2011-05-28","loss":-2.2},
{"date":"2011-05-29","loss":-1.4},{"date":"2011-05-29","loss":-1.75},{"date":"2011-05-29","loss":-2.05},{"date":"2011-05-29","loss":-2.4},
{"date":"2011-05-30","loss":-1.65},{"date":"2011-05-30","loss":-1.9},{"date":"2011-05-30","loss":-2.15},{"date":"2011-05-30","loss":-2.5},
{"date":"2011-05-31","loss":-1.7},{"date":"2011-05-31","loss":-1.95},{"date":"2011-05-31","loss":-2.2},{"date":"2011-05-31","loss":-2.55},
{"date":"2011-06-01","loss":-1.8},{"date":"2011-06-01","loss":-2.05},{"date":"2011-06-01","loss":-2.3},{"date":"2011-06-01","loss":-2.7},
{"date":"2011-06-02","loss":-1.9},{"date":"2011-06-02","loss":-2.15},{"date":"2011-06-02","loss":-2.45},{"date":"2011-06-02","loss":-2.85},
{"date":"2011-06-03","loss":-2.0},{"date":"2011-06-03","loss":-2.3},{"date":"2011-06-03","loss":-2.6},{"date":"2011-06-03","loss":-3.15},
{"date":"2011-06-04","loss":-1.95},{"date":"2011-06-04","loss":-2.25},{"date":"2011-06-04","loss":-2.5},{"date":"2011-06-04","loss":-3.3},
{"date":"2011-06-05","loss":-1.7},{"date":"2011-06-05","loss":-2.0},{"date":"2011-06-05","loss":-2.2},{"date":"2011-06-05","loss":-2.45},
{"date":"2011-06-06","loss":-1.6},{"date":"2011-06-06","loss":-1.85},{"date":"2011-06-06","loss":-2.1},
{"date":"2011-06-07","loss":-1.3},{"date":"2011-06-07","loss":-1.6},{"date":"2011-06-07","loss":-1.9},{"date":"2011-06-07","loss":-2.2},
{"date":"2011-06-08","loss":-0.9},{"date":"2011-06-08","loss":-1.5},{"date":"2011-06-08","loss":-1.75},{"date":"2011-06-08","loss":-2.0},
{"date":"2011-06-09","loss":-1.4},{"date":"2011-06-09","loss":-1.7},{"date":"2011-06-09","loss":-1.95},{"date":"2011-06-09","loss":-2.25},
{"date":"2011-06-10","loss":-1.55},{"date":"2011-06-10","loss":-1.8},{"date":"2011-06-10","loss":-2.05},{"date":"2011-06-10","loss":-2.35},
{"date":"2011-06-11","loss":-1.5},{"date":"2011-06-11","loss":-1.75},{"date":"2011-06-11","loss":-2.0},{"date":"2011-06-11","loss":-2.3},
{"date":"2011-06-12","loss":-1.6},{"date":"2011-06-12","loss":-1.9},{"date":"2011-06-12","loss":-2.1},{"date":"2011-06-12","loss":-2.55},
{"date":"2011-06-13","loss":-1.45},{"date":"2011-06-13","loss":-1.8},{"date":"2011-06-13","loss":-2.05},{"date":"2011-06-13","loss":-2.4},
{"date":"2011-06-14","loss":-1.7},{"date":"2011-06-14","loss":-1.95},{"date":"2011-06-14","loss":-2.2},{"date":"2011-06-14","loss":-2.6},
{"date":"2011-06-15","loss":-1.65},{"date":"2011-06-15","loss":-2.0},{"date":"2011-06-15","loss":-2.3},{"date":"2011-06-15","loss":-3.0},
{"date":"2011-06-16","loss":-1.5},{"date":"2011-06-16","loss":-1.85},{"date":"2011-06-16","loss":-2.1},{"date":"2011-06-16","loss":-2.5},
{"date":"2011-06-17","loss":-1.6},{"date":"2011-06-17","loss":-1.8},{"date":"2011-06-17","loss":-2.0},
{"date":"2011-06-18","loss":-1.5},{"date":"2011-06-18","loss":-1.7},{"date":"2011-06-18","loss":-1.9},
{"date":"2011-06-19","loss":-0.3},{"date":"2011-06-19","loss":-0.5},{"date":"2011-06-19","loss":-0.8},{"date":"2011-06-19","loss":-0.95},
{"date":"2011-06-20","loss":0.5},{"date":"2011-06-20","loss":0.1},{"date":"2011-06-20","loss":-0.2},{"date":"2011-06-20","loss":-0.45},{"date":"2011-06-20","loss":-0.6},
{"date":"2011-06-21","loss":-0.3},{"date":"2011-06-21","loss":-0.5},{"date":"2011-06-21","loss":-0.65},{"date":"2011-06-21","loss":-0.8},
{"date":"2011-06-22","loss":-0.35},{"date":"2011-06-22","loss":-0.45},{"date":"2011-06-22","loss":-0.6},{"date":"2011-06-22","loss":-0.75},{"date":"2011-06-22","loss":-0.9},
{"date":"2011-06-23","loss":-0.25},{"date":"2011-06-23","loss":-0.4},{"date":"2011-06-23","loss":-0.55},{"date":"2011-06-23","loss":-0.7},
{"date":"2011-06-24","loss":-0.3},{"date":"2011-06-24","loss":-0.5},{"date":"2011-06-24","loss":-0.6},{"date":"2011-06-24","loss":-0.85},
{"date":"2011-06-25","loss":-0.2},{"date":"2011-06-25","loss":-0.35},{"date":"2011-06-25","loss":-0.5},{"date":"2011-06-25","loss":-0.65},
{"date":"2011-06-26","loss":-0.4},{"date":"2011-06-26","loss":-0.55},{"date":"2011-06-26","loss":-0.7},
{"date":"2011-07-10","loss":-1.0},{"date":"2011-07-10","loss":-1.1},{"date":"2011-07-10","loss":-1.2},
{"date":"2011-07-11","loss":-1.05},{"date":"2011-07-11","loss":-1.3},{"date":"2011-07-11","loss":-1.45},{"date":"2011-07-11","loss":-1.6},
{"date":"2011-07-12","loss":-1.2},{"date":"2011-07-12","loss":-1.5},{"date":"2011-07-12","loss":-2.1},
{"date":"2011-07-13","loss":-1.35},{"date":"2011-07-13","loss":-2.3},
{"date":"2011-07-16","loss":0.0},{"date":"2011-07-16","loss":-0.3},{"date":"2011-07-16","loss":-0.45},
{"date":"2011-07-17","loss":-0.35},{"date":"2011-07-17","loss":-0.5},{"date":"2011-07-17","loss":-0.6},{"date":"2011-07-17","loss":-0.8},
{"date":"2011-07-18","loss":-0.4},{"date":"2011-07-18","loss":-0.55},{"date":"2011-07-18","loss":-0.7},{"date":"2011-07-18","loss":-0.9},
{"date":"2011-07-19","loss":-0.5},{"date":"2011-07-19","loss":-0.65},{"date":"2011-07-19","loss":-0.8},{"date":"2011-07-19","loss":-1.0},
{"date":"2011-07-20","loss":-0.6},{"date":"2011-07-20","loss":-0.75},{"date":"2011-07-20","loss":-1.1},{"date":"2011-07-20","loss":-1.4},
{"date":"2011-07-21","loss":-0.5},{"date":"2011-07-21","loss":-0.9},
{"date":"2011-08-03","loss":-0.45},{"date":"2011-08-03","loss":-0.6},{"date":"2011-08-03","loss":-0.75},{"date":"2011-08-03","loss":-0.9},
{"date":"2011-08-04","loss":-0.5},{"date":"2011-08-04","loss":-0.7},{"date":"2011-08-04","loss":-0.85},{"date":"2011-08-04","loss":-1.05},
{"date":"2011-08-05","loss":-0.35},{"date":"2011-08-05","loss":-0.6},{"date":"2011-08-05","loss":-1.2},{"date":"2011-08-05","loss":-1.35},
{"date":"2011-08-06","loss":-0.55},{"date":"2011-08-06","loss":-0.8},{"date":"2011-08-06","loss":-1.0},{"date":"2011-08-06","loss":-1.5},
{"date":"2011-08-07","loss":-0.2},{"date":"2011-08-07","loss":-0.4},{"date":"2011-08-07","loss":-0.65},
{"date":"2011-08-08","loss":0.05},{"date":"2011-08-08","loss":-0.15},{"date":"2011-08-08","loss":-0.3},{"date":"2011-08-08","loss":-0.5},
{"date":"2011-08-09","loss":-0.1},{"date":"2011-08-09","loss":-0.35},{"date":"2011-08-09","loss":-0.55},{"date":"2011-08-09","loss":-0.8},
{"date":"2011-08-10","loss":0.4},{"date":"2011-08-10","loss":0.15},{"date":"2011-08-10","loss":-0.2},{"date":"2011-08-10","loss":-0.45},
{"date":"2011-08-11","loss":0.35},{"date":"2011-08-11","loss":0.1},{"date":"2011-08-11","loss":-0.25},{"date":"2011-08-11","loss":-0.6},
{"date":"2011-08-12","loss":-0.3},{"date":"2011-08-12","loss":-0.5},{"date":"2011-08-12","loss":-0.7},{"date":"2011-08-12","loss":-0.9},
{"date":"2011-08-13","loss":0.0},{"date":"2011-08-13","loss":-0.35},{"date":"2011-08-13","loss":-0.55},{"date":"2011-08-13","loss":-0.75},
{"date":"2011-08-14","loss":-0.4},{"date":"2011-08-14","loss":-0.6},{"date":"2011-08-14","loss":-0.8},{"date":"2011-08-14","loss":-1.0},
{"date":"2011-08-15","loss":0.4},{"date":"2011-08-15","loss":0.15},{"date":"2011-08-15","loss":-0.2},{"date":"2011-08-15","loss":-0.45},
{"date":"2011-08-16","loss":-0.3},{"date":"2011-08-16","loss":-0.5},{"date":"2011-08-16","loss":-0.7},{"date":"2011-08-16","loss":-0.9},
{"date":"2011-08-17","loss":-0.2},{"date":"2011-08-17","loss":-0.45},{"date":"2011-08-17","loss":-0.65},{"date":"2011-08-17","loss":-0.85},
{"date":"2011-08-18","loss":-0.5},{"date":"2011-08-18","loss":-0.75},{"date":"2011-08-18","loss":-0.95},{"date":"2011-08-18","loss":-1.1},
{"date":"2011-08-19","loss":0.1},{"date":"2011-08-19","loss":-0.3},{"date":"2011-08-19","loss":-0.6},{"date":"2011-08-19","loss":-0.9},
{"date":"2011-08-20","loss":1.74},{"date":"2011-08-20","loss":1.3},{"date":"2011-08-20","loss":1.2},{"date":"2011-08-20","loss":0.9},{"date":"2011-08-20","loss":0.65},{"date":"2011-08-20","loss":0.4},{"date":"2011-08-20","loss":0.1},{"date":"2011-08-20","loss":-0.2},
{"date":"2011-08-21","loss":0.5},{"date":"2011-08-21","loss":0.2},{"date":"2011-08-21","loss":-0.1},{"date":"2011-08-21","loss":-0.4},
{"date":"2011-08-22","loss":0.45},{"date":"2011-08-22","loss":0.1},{"date":"2011-08-22","loss":-0.15},{"date":"2011-08-22","loss":-0.35},
{"date":"2011-08-23","loss":0.25},{"date":"2011-08-23","loss":0.0},{"date":"2011-08-23","loss":-0.3},
{"date":"2011-08-24","loss":0.6},{"date":"2011-08-24","loss":0.35},{"date":"2011-08-24","loss":0.15},{"date":"2011-08-24","loss":-0.05},
{"date":"2011-08-25","loss":0.55},{"date":"2011-08-25","loss":0.3},{"date":"2011-08-25","loss":0.05},{"date":"2011-08-25","loss":-0.2},
{"date":"2011-08-26","loss":0.8},{"date":"2011-08-26","loss":0.5},{"date":"2011-08-26","loss":0.2},
{"date":"2011-08-27","loss":0.6},{"date":"2011-08-27","loss":0.35},{"date":"2011-08-27","loss":0.1},
{"date":"2011-08-28","loss":0.45},{"date":"2011-08-28","loss":0.2},{"date":"2011-08-28","loss":0.0},{"date":"2011-08-28","loss":-0.25},
{"date":"2011-08-29","loss":0.5},{"date":"2011-08-29","loss":0.3},{"date":"2011-08-29","loss":-0.1},{"date":"2011-08-29","loss":-0.4},
{"date":"2011-08-30","loss":0.35},{"date":"2011-08-30","loss":0.1},{"date":"2011-08-30","loss":-0.2},{"date":"2011-08-30","loss":-0.5},
{"date":"2011-08-31","loss":1.25},{"date":"2011-08-31","loss":0.25},{"date":"2011-08-31","loss":0.0},{"date":"2011-08-31","loss":-0.3},{"date":"2011-08-31","loss":-0.6},
{"date":"2011-09-01","loss":0.4},{"date":"2011-09-01","loss":0.15},{"date":"2011-09-01","loss":-0.15},{"date":"2011-09-01","loss":-1.0},
{"date":"2011-09-02","loss":0.2},{"date":"2011-09-02","loss":-0.05},{"date":"2011-09-02","loss":-0.35},{"date":"2011-09-02","loss":-0.8},
{"date":"2011-09-03","loss":0.3},{"date":"2011-09-03","loss":0.05},{"date":"2011-09-03","loss":-0.25},
{"date":"2011-09-04","loss":0.45},{"date":"2011-09-04","loss":0.1},{"date":"2011-09-04","loss":-0.3},
{"date":"2011-09-05","loss":0.15},{"date":"2011-09-05","loss":-0.1},{"date":"2011-09-05","loss":-0.4},
{"date":"2011-09-06","loss":0.3},{"date":"2011-09-06","loss":0.0},{"date":"2011-09-06","loss":-0.2},{"date":"2011-09-06","loss":-0.5},
{"date":"2011-09-07","loss":0.75},{"date":"2011-09-07","loss":0.1},{"date":"2011-09-07","loss":-0.2},{"date":"2011-09-07","loss":-0.6},
{"date":"2011-09-08","loss":-0.05},{"date":"2011-09-08","loss":-0.3},{"date":"2011-09-08","loss":-0.55},{"date":"2011-09-08","loss":-1.0},
{"date":"2011-09-09","loss":0.2},{"date":"2011-09-09","loss":0.0},{"date":"2011-09-09","loss":-0.25},
{"date":"2011-09-10","loss":0.5},{"date":"2011-09-10","loss":0.3},{"date":"2011-09-10","loss":0.05},{"date":"2011-09-10","loss":-0.4},
{"date":"2011-09-11","loss":0.7},{"date":"2011-09-11","loss":0.45},{"date":"2011-09-11","loss":0.2},{"date":"2011-09-11","loss":-0.1},
{"date":"2011-09-13","loss":0.85},{"date":"2011-09-13","loss":0.6},{"date":"2011-09-13","loss":0.35},{"date":"2011-09-13","loss":-0.1},
{"date":"2011-09-14","loss":0.6},{"date":"2011-09-14","loss":0.35},{"date":"2011-09-14","loss":0.1},{"date":"2011-09-14","loss":-0.2},
{"date":"2011-09-15","loss":0.4},{"date":"2011-09-15","loss":0.1},{"date":"2011-09-15","loss":-0.3},
{"date":"2011-09-16","loss":0.5},{"date":"2011-09-16","loss":0.2},{"date":"2011-09-16","loss":0.0},
{"date":"2011-09-17","loss":0.7},{"date":"2011-09-17","loss":0.4},{"date":"2011-09-17","loss":0.15},{"date":"2011-09-17","loss":-1.4},
{"date":"2011-09-18","loss":0.9},{"date":"2011-09-18","loss":0.6},{"date":"2011-09-18","loss":0.3},{"date":"2011-09-18","loss":0.05},
{"date":"2011-09-19","loss":0.8},{"date":"2011-09-19","loss":0.55},{"date":"2011-09-19","loss":0.25},
{"date":"2011-09-20","loss":0.95},{"date":"2011-09-20","loss":0.75},{"date":"2011-09-20","loss":0.5},{"date":"2011-09-20","loss":0.1},
{"date":"2011-09-21","loss":0.65},{"date":"2011-09-21","loss":0.4},{"date":"2011-09-21","loss":0.2},{"date":"2011-09-21","loss":-0.05},
{"date":"2011-09-22","loss":0.85},{"date":"2011-09-22","loss":0.6},{"date":"2011-09-22","loss":0.35},{"date":"2011-09-22","loss":0.15},
{"date":"2011-09-23","loss":0.5},{"date":"2011-09-23","loss":0.3},{"date":"2011-09-23","loss":0.1},{"date":"2011-09-23","loss":-0.3},
{"date":"2011-09-24","loss":0.7},{"date":"2011-09-24","loss":0.45},{"date":"2011-09-24","loss":0.2},{"date":"2011-09-24","loss":0.0},
{"date":"2011-09-25","loss":0.4},{"date":"2011-09-25","loss":0.25},{"date":"2011-09-25","loss":0.05},
{"date":"2011-09-26","loss":0.55},{"date":"2011-09-26","loss":0.3},{"date":"2011-09-26","loss":0.1},
{"date":"2011-09-27","loss":0.35},{"date":"2011-09-27","loss":0.2},{"date":"2011-09-27","loss":-0.3},
{"date":"2011-09-28","loss":0.3},{"date":"2011-09-28","loss":0.15}
]
},
"vconcat": [
{
  "width": 971, "height": 237,
  "title": "Excess Attenuation Loss at 1000 Hz, microphone position 2",
  "layer": [
    {"data": {"name": "mic2"},
     "mark": {"type": "point", "shape": "cross", "filled": true, "size": 22, "color": "#ff0000", "opacity": 1},
     "encoding": {
       "x": {"field": "date", "type": "temporal",
             "scale": {"type": "utc", "domain": [{"year": 2010, "month": 7, "date": 1, "utc": true}, {"year": 2011, "month": 10, "date": 29, "utc": true}]},
             "axis": {"title": "Month / Year", "format": "%m/%y", "grid": true,
                      "values": [{"year": 2010, "month": 7, "date": 1, "utc": true}, {"year": 2010, "month": 10, "date": 1, "utc": true}, {"year": 2011, "month": 1, "date": 1, "utc": true}, {"year": 2011, "month": 4, "date": 1, "utc": true}, {"year": 2011, "month": 7, "date": 1, "utc": true}, {"year": 2011, "month": 10, "date": 1, "utc": true}]}},
       "y": {"field": "loss", "type": "quantitative",
             "scale": {"domain": [-4, 2], "nice": false},
             "axis": {"title": "Excess Attenuation Loss (dB)", "values": [-4, -3, -2, -1, 0, 1, 2], "format": "d", "grid": true}}
     }},
    {"data": {"values": [{}]},
     "mark": {"type": "rule", "color": "#0000ff", "strokeWidth": 2},
     "encoding": {"y": {"datum": 0}}}
  ]
},
{
  "width": 971, "height": 237,
  "title": "Excess Attenuation Loss at 1000 Hz, microphone position 5",
  "layer": [
    {"data": {"name": "mic5"},
     "mark": {"type": "point", "shape": "cross", "filled": true, "size": 22, "color": "#ff0000", "opacity": 1},
     "encoding": {
       "x": {"field": "date", "type": "temporal",
             "scale": {"type": "utc", "domain": [{"year": 2010, "month": 7, "date": 1, "utc": true}, {"year": 2011, "month": 10, "date": 29, "utc": true}]},
             "axis": {"title": "Month / Year", "format": "%m/%y", "grid": true,
                      "values": [{"year": 2010, "month": 7, "date": 1, "utc": true}, {"year": 2010, "month": 10, "date": 1, "utc": true}, {"year": 2011, "month": 1, "date": 1, "utc": true}, {"year": 2011, "month": 4, "date": 1, "utc": true}, {"year": 2011, "month": 7, "date": 1, "utc": true}, {"year": 2011, "month": 10, "date": 1, "utc": true}]}},
       "y": {"field": "loss", "type": "quantitative",
             "scale": {"domain": [-4, 2], "nice": false},
             "axis": {"title": "Excess Attenuation Loss (dB)", "values": [-4, -3, -2, -1, 0, 1, 2], "format": "d", "grid": true}}
     }},
    {"data": {"values": [{}]},
     "mark": {"type": "rule", "color": "#0000ff", "strokeWidth": 2},
     "encoding": {"y": {"datum": 0}}}
  ]
}
]
}
